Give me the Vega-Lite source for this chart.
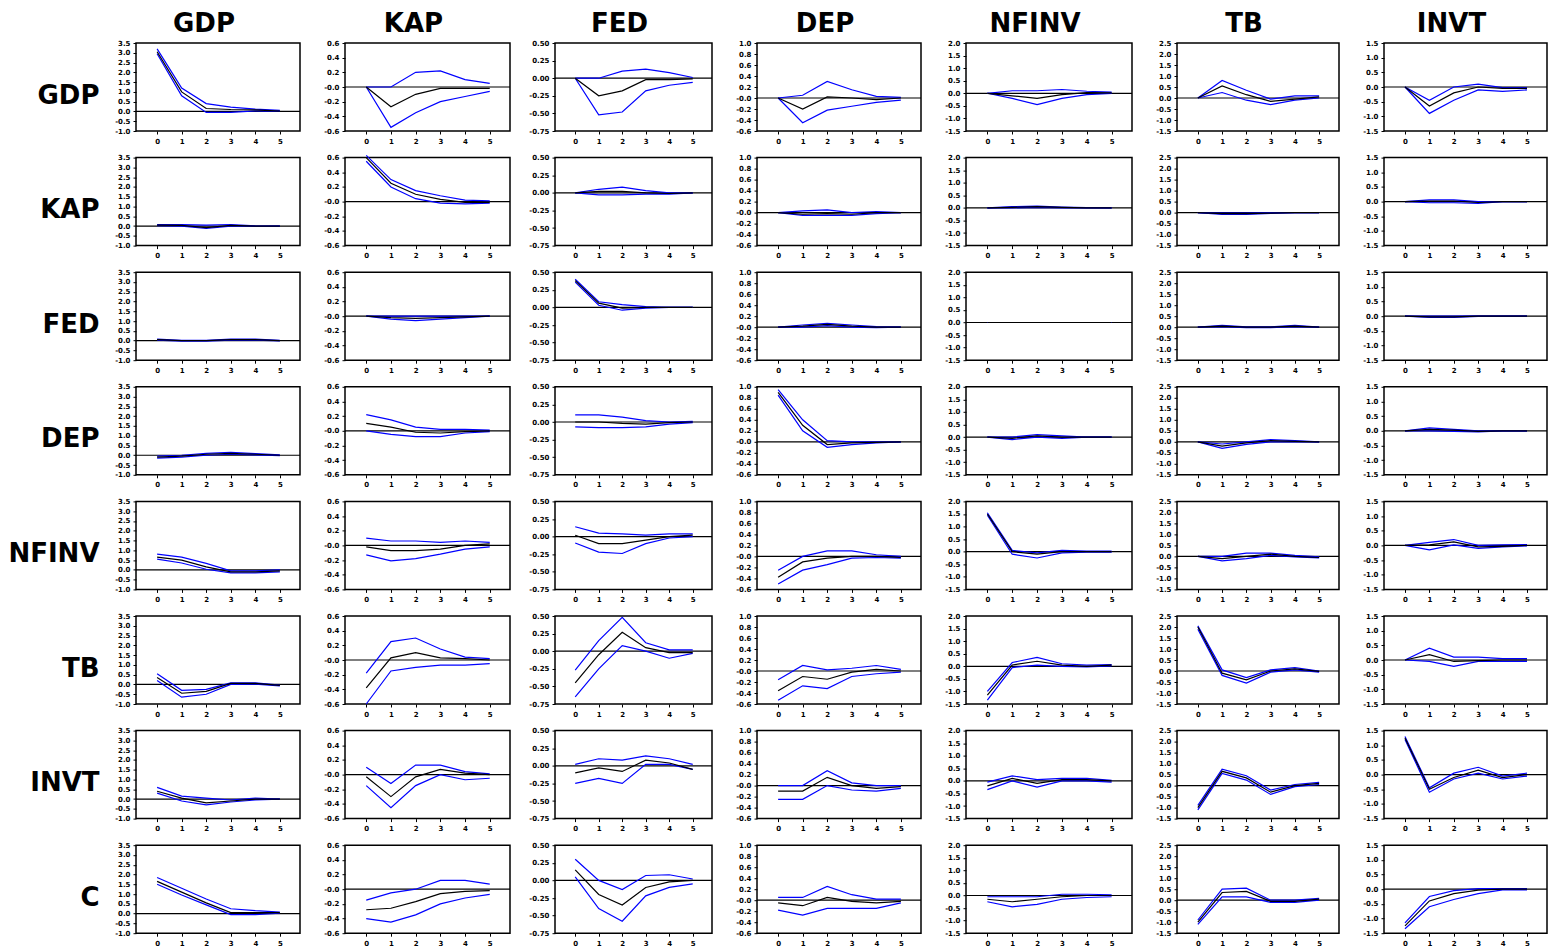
{
"$schema":"https://vega.github.io/schema/vega-lite/v6.json",
"padding":{"left":7,"top":10,"right":2,"bottom":2},
"background":"white",
"datasets":{"irf":[
{"r":"GDP","c":"GDP","h":0,"resp":3.05,"lo":2.95,"hi":3.2},{"r":"GDP","c":"GDP","h":1,"resp":1.0,"lo":0.8,"hi":1.2},{"r":"GDP","c":"GDP","h":2,"resp":0.15,"lo":-0.05,"hi":0.4},{"r":"GDP","c":"GDP","h":3,"resp":0.1,"lo":-0.05,"hi":0.22},{"r":"GDP","c":"GDP","h":4,"resp":0.08,"lo":0.03,"hi":0.12},{"r":"GDP","c":"GDP","h":5,"resp":0.02,"lo":0,"hi":0.05},
{"r":"GDP","c":"KAP","h":0,"resp":0,"lo":0,"hi":0},{"r":"GDP","c":"KAP","h":1,"resp":-0.27,"lo":-0.55,"hi":0},{"r":"GDP","c":"KAP","h":2,"resp":-0.1,"lo":-0.35,"hi":0.2},{"r":"GDP","c":"KAP","h":3,"resp":-0.02,"lo":-0.2,"hi":0.22},{"r":"GDP","c":"KAP","h":4,"resp":-0.02,"lo":-0.13,"hi":0.1},{"r":"GDP","c":"KAP","h":5,"resp":-0.02,"lo":-0.06,"hi":0.05},
{"r":"GDP","c":"FED","h":0,"resp":0,"lo":0,"hi":0},{"r":"GDP","c":"FED","h":1,"resp":-0.25,"lo":-0.52,"hi":0},{"r":"GDP","c":"FED","h":2,"resp":-0.18,"lo":-0.48,"hi":0.1},{"r":"GDP","c":"FED","h":3,"resp":-0.02,"lo":-0.18,"hi":0.13},{"r":"GDP","c":"FED","h":4,"resp":-0.02,"lo":-0.1,"hi":0.08},{"r":"GDP","c":"FED","h":5,"resp":-0.01,"lo":-0.06,"hi":0.01},
{"r":"GDP","c":"DEP","h":0,"resp":0,"lo":0,"hi":0},{"r":"GDP","c":"DEP","h":1,"resp":-0.2,"lo":-0.45,"hi":0.05},{"r":"GDP","c":"DEP","h":2,"resp":0.02,"lo":-0.22,"hi":0.3},{"r":"GDP","c":"DEP","h":3,"resp":0,"lo":-0.15,"hi":0.15},{"r":"GDP","c":"DEP","h":4,"resp":-0.03,"lo":-0.08,"hi":0.03},{"r":"GDP","c":"DEP","h":5,"resp":0,"lo":-0.04,"hi":0.01},
{"r":"GDP","c":"NFINV","h":0,"resp":0,"lo":0,"hi":0},{"r":"GDP","c":"NFINV","h":1,"resp":-0.1,"lo":-0.2,"hi":0.1},{"r":"GDP","c":"NFINV","h":2,"resp":-0.2,"lo":-0.45,"hi":0.1},{"r":"GDP","c":"NFINV","h":3,"resp":-0.05,"lo":-0.2,"hi":0.15},{"r":"GDP","c":"NFINV","h":4,"resp":0.03,"lo":-0.05,"hi":0.08},{"r":"GDP","c":"NFINV","h":5,"resp":0.02,"lo":0,"hi":0.05},
{"r":"GDP","c":"TB","h":0,"resp":0,"lo":0,"hi":0},{"r":"GDP","c":"TB","h":1,"resp":0.55,"lo":0.25,"hi":0.8},{"r":"GDP","c":"TB","h":2,"resp":0.15,"lo":-0.1,"hi":0.35},{"r":"GDP","c":"TB","h":3,"resp":-0.15,"lo":-0.3,"hi":-0.05},{"r":"GDP","c":"TB","h":4,"resp":-0.05,"lo":-0.1,"hi":0.1},{"r":"GDP","c":"TB","h":5,"resp":0.05,"lo":0,"hi":0.1},
{"r":"GDP","c":"INVT","h":0,"resp":0,"lo":0,"hi":0},{"r":"GDP","c":"INVT","h":1,"resp":-0.65,"lo":-0.9,"hi":-0.45},{"r":"GDP","c":"INVT","h":2,"resp":-0.2,"lo":-0.45,"hi":0},{"r":"GDP","c":"INVT","h":3,"resp":0,"lo":-0.1,"hi":0.1},{"r":"GDP","c":"INVT","h":4,"resp":-0.05,"lo":-0.15,"hi":-0.02},{"r":"GDP","c":"INVT","h":5,"resp":-0.05,"lo":-0.1,"hi":-0.02},
{"r":"KAP","c":"GDP","h":0,"resp":0.05,"lo":0.02,"hi":0.08},{"r":"KAP","c":"GDP","h":1,"resp":0.03,"lo":0,"hi":0.07},{"r":"KAP","c":"GDP","h":2,"resp":-0.08,"lo":-0.12,"hi":0.05},{"r":"KAP","c":"GDP","h":3,"resp":0.03,"lo":0,"hi":0.08},{"r":"KAP","c":"GDP","h":4,"resp":0,"lo":-0.01,"hi":0.01},{"r":"KAP","c":"GDP","h":5,"resp":0,"lo":0,"hi":0},
{"r":"KAP","c":"KAP","h":0,"resp":0.6,"lo":0.55,"hi":0.63},{"r":"KAP","c":"KAP","h":1,"resp":0.25,"lo":0.2,"hi":0.3},{"r":"KAP","c":"KAP","h":2,"resp":0.1,"lo":0.04,"hi":0.15},{"r":"KAP","c":"KAP","h":3,"resp":0.03,"lo":-0.02,"hi":0.08},{"r":"KAP","c":"KAP","h":4,"resp":-0.01,"lo":-0.03,"hi":0.02},{"r":"KAP","c":"KAP","h":5,"resp":-0.01,"lo":-0.02,"hi":0.01},
{"r":"KAP","c":"FED","h":0,"resp":0,"lo":0,"hi":0},{"r":"KAP","c":"FED","h":1,"resp":0.02,"lo":-0.03,"hi":0.05},{"r":"KAP","c":"FED","h":2,"resp":0.02,"lo":-0.03,"hi":0.08},{"r":"KAP","c":"FED","h":3,"resp":0,"lo":-0.02,"hi":0.03},{"r":"KAP","c":"FED","h":4,"resp":-0.01,"lo":-0.02,"hi":0},{"r":"KAP","c":"FED","h":5,"resp":0,"lo":0,"hi":0},
{"r":"KAP","c":"DEP","h":0,"resp":0,"lo":0,"hi":0},{"r":"KAP","c":"DEP","h":1,"resp":-0.03,"lo":-0.05,"hi":0.03},{"r":"KAP","c":"DEP","h":2,"resp":-0.02,"lo":-0.05,"hi":0.05},{"r":"KAP","c":"DEP","h":3,"resp":-0.03,"lo":-0.05,"hi":0},{"r":"KAP","c":"DEP","h":4,"resp":0,"lo":-0.02,"hi":0.02},{"r":"KAP","c":"DEP","h":5,"resp":0,"lo":0,"hi":0},
{"r":"KAP","c":"NFINV","h":0,"resp":0,"lo":0,"hi":0},{"r":"KAP","c":"NFINV","h":1,"resp":0.02,"lo":0,"hi":0.05},{"r":"KAP","c":"NFINV","h":2,"resp":0.05,"lo":0.02,"hi":0.07},{"r":"KAP","c":"NFINV","h":3,"resp":0.02,"lo":0,"hi":0.03},{"r":"KAP","c":"NFINV","h":4,"resp":0,"lo":0,"hi":0.01},{"r":"KAP","c":"NFINV","h":5,"resp":0,"lo":0,"hi":0},
{"r":"KAP","c":"TB","h":0,"resp":0,"lo":0,"hi":0},{"r":"KAP","c":"TB","h":1,"resp":-0.05,"lo":-0.08,"hi":-0.02},{"r":"KAP","c":"TB","h":2,"resp":-0.05,"lo":-0.08,"hi":-0.02},{"r":"KAP","c":"TB","h":3,"resp":-0.02,"lo":-0.04,"hi":0},{"r":"KAP","c":"TB","h":4,"resp":0,"lo":0,"hi":0},{"r":"KAP","c":"TB","h":5,"resp":0,"lo":0,"hi":0},
{"r":"KAP","c":"INVT","h":0,"resp":0,"lo":0,"hi":0},{"r":"KAP","c":"INVT","h":1,"resp":0.02,"lo":-0.04,"hi":0.06},{"r":"KAP","c":"INVT","h":2,"resp":0.02,"lo":-0.04,"hi":0.06},{"r":"KAP","c":"INVT","h":3,"resp":-0.03,"lo":-0.06,"hi":0},{"r":"KAP","c":"INVT","h":4,"resp":0,"lo":0,"hi":0},{"r":"KAP","c":"INVT","h":5,"resp":0,"lo":0,"hi":0},
{"r":"FED","c":"GDP","h":0,"resp":0.05,"lo":0.02,"hi":0.08},{"r":"FED","c":"GDP","h":1,"resp":0,"lo":-0.02,"hi":0.02},{"r":"FED","c":"GDP","h":2,"resp":0,"lo":-0.02,"hi":0.02},{"r":"FED","c":"GDP","h":3,"resp":0.05,"lo":0.02,"hi":0.08},{"r":"FED","c":"GDP","h":4,"resp":0.05,"lo":0.02,"hi":0.08},{"r":"FED","c":"GDP","h":5,"resp":0,"lo":-0.01,"hi":0.01},
{"r":"FED","c":"KAP","h":0,"resp":0,"lo":0,"hi":0},{"r":"FED","c":"KAP","h":1,"resp":-0.02,"lo":-0.04,"hi":0},{"r":"FED","c":"KAP","h":2,"resp":-0.03,"lo":-0.06,"hi":0},{"r":"FED","c":"KAP","h":3,"resp":-0.02,"lo":-0.04,"hi":0},{"r":"FED","c":"KAP","h":4,"resp":-0.01,"lo":-0.02,"hi":0},{"r":"FED","c":"KAP","h":5,"resp":0,"lo":0,"hi":0},
{"r":"FED","c":"FED","h":0,"resp":0.38,"lo":0.36,"hi":0.4},{"r":"FED","c":"FED","h":1,"resp":0.06,"lo":0.03,"hi":0.08},{"r":"FED","c":"FED","h":2,"resp":-0.01,"lo":-0.04,"hi":0.04},{"r":"FED","c":"FED","h":3,"resp":0,"lo":-0.01,"hi":0.01},{"r":"FED","c":"FED","h":4,"resp":0,"lo":0,"hi":0},{"r":"FED","c":"FED","h":5,"resp":0,"lo":0,"hi":0},
{"r":"FED","c":"DEP","h":0,"resp":0,"lo":0,"hi":0},{"r":"FED","c":"DEP","h":1,"resp":0.02,"lo":0,"hi":0.04},{"r":"FED","c":"DEP","h":2,"resp":0.05,"lo":0.03,"hi":0.07},{"r":"FED","c":"DEP","h":3,"resp":0.02,"lo":0,"hi":0.04},{"r":"FED","c":"DEP","h":4,"resp":0,"lo":-0.01,"hi":0.01},{"r":"FED","c":"DEP","h":5,"resp":0,"lo":0,"hi":0},
{"r":"FED","c":"NFINV","h":0,"resp":0,"lo":0,"hi":0},{"r":"FED","c":"NFINV","h":1,"resp":0,"lo":0,"hi":0},{"r":"FED","c":"NFINV","h":2,"resp":0,"lo":0,"hi":0},{"r":"FED","c":"NFINV","h":3,"resp":0,"lo":0,"hi":0},{"r":"FED","c":"NFINV","h":4,"resp":0,"lo":0,"hi":0},{"r":"FED","c":"NFINV","h":5,"resp":0,"lo":0,"hi":0},
{"r":"FED","c":"TB","h":0,"resp":0,"lo":0,"hi":0},{"r":"FED","c":"TB","h":1,"resp":0.05,"lo":0.02,"hi":0.08},{"r":"FED","c":"TB","h":2,"resp":0,"lo":-0.02,"hi":0.02},{"r":"FED","c":"TB","h":3,"resp":0,"lo":-0.02,"hi":0.02},{"r":"FED","c":"TB","h":4,"resp":0.05,"lo":0.02,"hi":0.08},{"r":"FED","c":"TB","h":5,"resp":0,"lo":0,"hi":0},
{"r":"FED","c":"INVT","h":0,"resp":0,"lo":0,"hi":0},{"r":"FED","c":"INVT","h":1,"resp":-0.02,"lo":-0.04,"hi":0},{"r":"FED","c":"INVT","h":2,"resp":-0.02,"lo":-0.04,"hi":0},{"r":"FED","c":"INVT","h":3,"resp":0,"lo":-0.01,"hi":0.01},{"r":"FED","c":"INVT","h":4,"resp":0,"lo":0,"hi":0},{"r":"FED","c":"INVT","h":5,"resp":0,"lo":0,"hi":0},
{"r":"DEP","c":"GDP","h":0,"resp":-0.1,"lo":-0.15,"hi":-0.05},{"r":"DEP","c":"GDP","h":1,"resp":-0.05,"lo":-0.1,"hi":0},{"r":"DEP","c":"GDP","h":2,"resp":0.05,"lo":0,"hi":0.1},{"r":"DEP","c":"GDP","h":3,"resp":0.1,"lo":0.05,"hi":0.15},{"r":"DEP","c":"GDP","h":4,"resp":0.05,"lo":0.02,"hi":0.08},{"r":"DEP","c":"GDP","h":5,"resp":0,"lo":-0.02,"hi":0.02},
{"r":"DEP","c":"KAP","h":0,"resp":0.1,"lo":0,"hi":0.22},{"r":"DEP","c":"KAP","h":1,"resp":0.05,"lo":-0.05,"hi":0.15},{"r":"DEP","c":"KAP","h":2,"resp":-0.02,"lo":-0.08,"hi":0.05},{"r":"DEP","c":"KAP","h":3,"resp":-0.03,"lo":-0.08,"hi":0.02},{"r":"DEP","c":"KAP","h":4,"resp":-0.01,"lo":-0.03,"hi":0.02},{"r":"DEP","c":"KAP","h":5,"resp":0,"lo":-0.01,"hi":0.01},
{"r":"DEP","c":"FED","h":0,"resp":0,"lo":-0.07,"hi":0.1},{"r":"DEP","c":"FED","h":1,"resp":0,"lo":-0.08,"hi":0.1},{"r":"DEP","c":"FED","h":2,"resp":-0.02,"lo":-0.08,"hi":0.07},{"r":"DEP","c":"FED","h":3,"resp":-0.03,"lo":-0.07,"hi":0.02},{"r":"DEP","c":"FED","h":4,"resp":-0.01,"lo":-0.03,"hi":0},{"r":"DEP","c":"FED","h":5,"resp":0,"lo":-0.01,"hi":0.01},
{"r":"DEP","c":"DEP","h":0,"resp":0.9,"lo":0.85,"hi":0.95},{"r":"DEP","c":"DEP","h":1,"resp":0.3,"lo":0.2,"hi":0.4},{"r":"DEP","c":"DEP","h":2,"resp":-0.05,"lo":-0.1,"hi":0.02},{"r":"DEP","c":"DEP","h":3,"resp":-0.02,"lo":-0.05,"hi":0},{"r":"DEP","c":"DEP","h":4,"resp":-0.01,"lo":-0.02,"hi":0},{"r":"DEP","c":"DEP","h":5,"resp":0,"lo":0,"hi":0},
{"r":"DEP","c":"NFINV","h":0,"resp":0,"lo":0,"hi":0},{"r":"DEP","c":"NFINV","h":1,"resp":-0.05,"lo":-0.1,"hi":0},{"r":"DEP","c":"NFINV","h":2,"resp":0.05,"lo":0,"hi":0.1},{"r":"DEP","c":"NFINV","h":3,"resp":0,"lo":-0.05,"hi":0.05},{"r":"DEP","c":"NFINV","h":4,"resp":0,"lo":0,"hi":0},{"r":"DEP","c":"NFINV","h":5,"resp":0,"lo":0,"hi":0},
{"r":"DEP","c":"TB","h":0,"resp":0,"lo":0,"hi":0},{"r":"DEP","c":"TB","h":1,"resp":-0.2,"lo":-0.3,"hi":-0.1},{"r":"DEP","c":"TB","h":2,"resp":-0.05,"lo":-0.12,"hi":0},{"r":"DEP","c":"TB","h":3,"resp":0.05,"lo":0,"hi":0.1},{"r":"DEP","c":"TB","h":4,"resp":0.02,"lo":0,"hi":0.05},{"r":"DEP","c":"TB","h":5,"resp":0,"lo":0,"hi":0},
{"r":"DEP","c":"INVT","h":0,"resp":0,"lo":0,"hi":0},{"r":"DEP","c":"INVT","h":1,"resp":0.05,"lo":0,"hi":0.1},{"r":"DEP","c":"INVT","h":2,"resp":0.02,"lo":-0.02,"hi":0.05},{"r":"DEP","c":"INVT","h":3,"resp":-0.02,"lo":-0.04,"hi":0},{"r":"DEP","c":"INVT","h":4,"resp":0,"lo":0,"hi":0},{"r":"DEP","c":"INVT","h":5,"resp":0,"lo":0,"hi":0},
{"r":"NFINV","c":"GDP","h":0,"resp":0.65,"lo":0.55,"hi":0.8},{"r":"NFINV","c":"GDP","h":1,"resp":0.5,"lo":0.35,"hi":0.65},{"r":"NFINV","c":"GDP","h":2,"resp":0.15,"lo":0.03,"hi":0.33},{"r":"NFINV","c":"GDP","h":3,"resp":-0.1,"lo":-0.15,"hi":-0.05},{"r":"NFINV","c":"GDP","h":4,"resp":-0.1,"lo":-0.15,"hi":-0.05},{"r":"NFINV","c":"GDP","h":5,"resp":-0.05,"lo":-0.1,"hi":0},
{"r":"NFINV","c":"KAP","h":0,"resp":-0.02,"lo":-0.13,"hi":0.1},{"r":"NFINV","c":"KAP","h":1,"resp":-0.07,"lo":-0.21,"hi":0.06},{"r":"NFINV","c":"KAP","h":2,"resp":-0.07,"lo":-0.18,"hi":0.06},{"r":"NFINV","c":"KAP","h":3,"resp":-0.05,"lo":-0.12,"hi":0.04},{"r":"NFINV","c":"KAP","h":4,"resp":0,"lo":-0.05,"hi":0.06},{"r":"NFINV","c":"KAP","h":5,"resp":0.02,"lo":-0.02,"hi":0.04},
{"r":"NFINV","c":"FED","h":0,"resp":0.02,"lo":-0.09,"hi":0.14},{"r":"NFINV","c":"FED","h":1,"resp":-0.1,"lo":-0.22,"hi":0.05},{"r":"NFINV","c":"FED","h":2,"resp":-0.1,"lo":-0.24,"hi":0.04},{"r":"NFINV","c":"FED","h":3,"resp":-0.05,"lo":-0.1,"hi":0.02},{"r":"NFINV","c":"FED","h":4,"resp":0,"lo":-0.02,"hi":0.04},{"r":"NFINV","c":"FED","h":5,"resp":0.02,"lo":0,"hi":0.04},
{"r":"NFINV","c":"DEP","h":0,"resp":-0.38,"lo":-0.5,"hi":-0.25},{"r":"NFINV","c":"DEP","h":1,"resp":-0.1,"lo":-0.25,"hi":0},{"r":"NFINV","c":"DEP","h":2,"resp":-0.03,"lo":-0.15,"hi":0.1},{"r":"NFINV","c":"DEP","h":3,"resp":0,"lo":-0.03,"hi":0.1},{"r":"NFINV","c":"DEP","h":4,"resp":0,"lo":-0.02,"hi":0.03},{"r":"NFINV","c":"DEP","h":5,"resp":-0.02,"lo":-0.03,"hi":0},
{"r":"NFINV","c":"NFINV","h":0,"resp":1.5,"lo":1.45,"hi":1.55},{"r":"NFINV","c":"NFINV","h":1,"resp":0,"lo":-0.1,"hi":0.05},{"r":"NFINV","c":"NFINV","h":2,"resp":-0.1,"lo":-0.25,"hi":-0.05},{"r":"NFINV","c":"NFINV","h":3,"resp":0,"lo":-0.05,"hi":0.05},{"r":"NFINV","c":"NFINV","h":4,"resp":0,"lo":-0.02,"hi":0.02},{"r":"NFINV","c":"NFINV","h":5,"resp":0,"lo":-0.02,"hi":0.02},
{"r":"NFINV","c":"TB","h":0,"resp":0,"lo":0,"hi":0},{"r":"NFINV","c":"TB","h":1,"resp":-0.1,"lo":-0.2,"hi":0},{"r":"NFINV","c":"TB","h":2,"resp":0,"lo":-0.1,"hi":0.15},{"r":"NFINV","c":"TB","h":3,"resp":0.1,"lo":0.05,"hi":0.15},{"r":"NFINV","c":"TB","h":4,"resp":0,"lo":-0.02,"hi":0.05},{"r":"NFINV","c":"TB","h":5,"resp":-0.05,"lo":-0.07,"hi":-0.02},
{"r":"NFINV","c":"INVT","h":0,"resp":0,"lo":0,"hi":0},{"r":"NFINV","c":"INVT","h":1,"resp":0.02,"lo":-0.15,"hi":0.1},{"r":"NFINV","c":"INVT","h":2,"resp":0.12,"lo":0.02,"hi":0.2},{"r":"NFINV","c":"INVT","h":3,"resp":-0.05,"lo":-0.1,"hi":0},{"r":"NFINV","c":"INVT","h":4,"resp":-0.03,"lo":-0.05,"hi":0.02},{"r":"NFINV","c":"INVT","h":5,"resp":0,"lo":-0.02,"hi":0.03},
{"r":"TB","c":"GDP","h":0,"resp":0.35,"lo":0.2,"hi":0.55},{"r":"TB","c":"GDP","h":1,"resp":-0.45,"lo":-0.65,"hi":-0.3},{"r":"TB","c":"GDP","h":2,"resp":-0.35,"lo":-0.5,"hi":-0.25},{"r":"TB","c":"GDP","h":3,"resp":0.05,"lo":0,"hi":0.08},{"r":"TB","c":"GDP","h":4,"resp":0.05,"lo":0.02,"hi":0.08},{"r":"TB","c":"GDP","h":5,"resp":-0.05,"lo":-0.08,"hi":-0.03},
{"r":"TB","c":"KAP","h":0,"resp":-0.38,"lo":-0.6,"hi":-0.18},{"r":"TB","c":"KAP","h":1,"resp":0.03,"lo":-0.15,"hi":0.25},{"r":"TB","c":"KAP","h":2,"resp":0.1,"lo":-0.1,"hi":0.3},{"r":"TB","c":"KAP","h":3,"resp":0.03,"lo":-0.07,"hi":0.15},{"r":"TB","c":"KAP","h":4,"resp":0.02,"lo":-0.07,"hi":0.04},{"r":"TB","c":"KAP","h":5,"resp":0,"lo":-0.05,"hi":0.02},
{"r":"TB","c":"FED","h":0,"resp":-0.45,"lo":-0.65,"hi":-0.27},{"r":"TB","c":"FED","h":1,"resp":-0.05,"lo":-0.25,"hi":0.15},{"r":"TB","c":"FED","h":2,"resp":0.27,"lo":0.08,"hi":0.48},{"r":"TB","c":"FED","h":3,"resp":0.05,"lo":0,"hi":0.12},{"r":"TB","c":"FED","h":4,"resp":-0.02,"lo":-0.1,"hi":0.02},{"r":"TB","c":"FED","h":5,"resp":-0.02,"lo":-0.03,"hi":0.02},
{"r":"TB","c":"DEP","h":0,"resp":-0.36,"lo":-0.53,"hi":-0.16},{"r":"TB","c":"DEP","h":1,"resp":-0.1,"lo":-0.27,"hi":0.1},{"r":"TB","c":"DEP","h":2,"resp":-0.15,"lo":-0.32,"hi":0.02},{"r":"TB","c":"DEP","h":3,"resp":-0.02,"lo":-0.1,"hi":0.05},{"r":"TB","c":"DEP","h":4,"resp":0.03,"lo":-0.05,"hi":0.1},{"r":"TB","c":"DEP","h":5,"resp":0,"lo":-0.02,"hi":0.03},
{"r":"TB","c":"NFINV","h":0,"resp":-1.15,"lo":-1.35,"hi":-1.0},{"r":"TB","c":"NFINV","h":1,"resp":0.05,"lo":-0.05,"hi":0.15},{"r":"TB","c":"NFINV","h":2,"resp":0.2,"lo":0.05,"hi":0.35},{"r":"TB","c":"NFINV","h":3,"resp":0.05,"lo":0,"hi":0.1},{"r":"TB","c":"NFINV","h":4,"resp":0,"lo":-0.02,"hi":0.05},{"r":"TB","c":"NFINV","h":5,"resp":0.05,"lo":0.02,"hi":0.07},
{"r":"TB","c":"TB","h":0,"resp":2.0,"lo":1.9,"hi":2.05},{"r":"TB","c":"TB","h":1,"resp":-0.1,"lo":-0.2,"hi":0.05},{"r":"TB","c":"TB","h":2,"resp":-0.4,"lo":-0.55,"hi":-0.3},{"r":"TB","c":"TB","h":3,"resp":0,"lo":-0.05,"hi":0.05},{"r":"TB","c":"TB","h":4,"resp":0.1,"lo":0.05,"hi":0.15},{"r":"TB","c":"TB","h":5,"resp":-0.02,"lo":-0.05,"hi":0},
{"r":"TB","c":"INVT","h":0,"resp":0,"lo":0,"hi":0},{"r":"TB","c":"INVT","h":1,"resp":0.18,"lo":-0.05,"hi":0.4},{"r":"TB","c":"INVT","h":2,"resp":-0.05,"lo":-0.22,"hi":0.1},{"r":"TB","c":"INVT","h":3,"resp":-0.02,"lo":-0.05,"hi":0.1},{"r":"TB","c":"INVT","h":4,"resp":0,"lo":-0.05,"hi":0.05},{"r":"TB","c":"INVT","h":5,"resp":0,"lo":-0.05,"hi":0.05},
{"r":"INVT","c":"GDP","h":0,"resp":0.4,"lo":0.3,"hi":0.6},{"r":"INVT","c":"GDP","h":1,"resp":0.05,"lo":-0.1,"hi":0.15},{"r":"INVT","c":"GDP","h":2,"resp":-0.2,"lo":-0.3,"hi":0.05},{"r":"INVT","c":"GDP","h":3,"resp":-0.1,"lo":-0.15,"hi":-0.05},{"r":"INVT","c":"GDP","h":4,"resp":0,"lo":-0.05,"hi":0.05},{"r":"INVT","c":"GDP","h":5,"resp":0,"lo":0,"hi":0},
{"r":"INVT","c":"KAP","h":0,"resp":-0.03,"lo":-0.15,"hi":0.1},{"r":"INVT","c":"KAP","h":1,"resp":-0.3,"lo":-0.45,"hi":-0.12},{"r":"INVT","c":"KAP","h":2,"resp":-0.03,"lo":-0.15,"hi":0.13},{"r":"INVT","c":"KAP","h":3,"resp":0.07,"lo":0,"hi":0.13},{"r":"INVT","c":"KAP","h":4,"resp":0.02,"lo":-0.07,"hi":0.04},{"r":"INVT","c":"KAP","h":5,"resp":0,"lo":-0.05,"hi":0.01},
{"r":"INVT","c":"FED","h":0,"resp":-0.1,"lo":-0.25,"hi":0.02},{"r":"INVT","c":"FED","h":1,"resp":-0.03,"lo":-0.18,"hi":0.1},{"r":"INVT","c":"FED","h":2,"resp":-0.08,"lo":-0.25,"hi":0.08},{"r":"INVT","c":"FED","h":3,"resp":0.08,"lo":0.02,"hi":0.14},{"r":"INVT","c":"FED","h":4,"resp":0.04,"lo":0.02,"hi":0.1},{"r":"INVT","c":"FED","h":5,"resp":-0.05,"lo":-0.05,"hi":0.02},
{"r":"INVT","c":"DEP","h":0,"resp":-0.1,"lo":-0.25,"hi":0},{"r":"INVT","c":"DEP","h":1,"resp":-0.1,"lo":-0.25,"hi":0},{"r":"INVT","c":"DEP","h":2,"resp":0.15,"lo":0,"hi":0.27},{"r":"INVT","c":"DEP","h":3,"resp":0,"lo":-0.08,"hi":0.05},{"r":"INVT","c":"DEP","h":4,"resp":-0.05,"lo":-0.1,"hi":0},{"r":"INVT","c":"DEP","h":5,"resp":-0.02,"lo":-0.05,"hi":0},
{"r":"INVT","c":"NFINV","h":0,"resp":-0.2,"lo":-0.35,"hi":-0.05},{"r":"INVT","c":"NFINV","h":1,"resp":0.1,"lo":0,"hi":0.2},{"r":"INVT","c":"NFINV","h":2,"resp":-0.1,"lo":-0.25,"hi":0.05},{"r":"INVT","c":"NFINV","h":3,"resp":0.05,"lo":0,"hi":0.1},{"r":"INVT","c":"NFINV","h":4,"resp":0.05,"lo":0,"hi":0.1},{"r":"INVT","c":"NFINV","h":5,"resp":0,"lo":-0.05,"hi":0.02},
{"r":"INVT","c":"TB","h":0,"resp":-1.0,"lo":-1.1,"hi":-0.9},{"r":"INVT","c":"TB","h":1,"resp":0.65,"lo":0.55,"hi":0.75},{"r":"INVT","c":"TB","h":2,"resp":0.35,"lo":0.25,"hi":0.45},{"r":"INVT","c":"TB","h":3,"resp":-0.3,"lo":-0.4,"hi":-0.2},{"r":"INVT","c":"TB","h":4,"resp":0,"lo":-0.05,"hi":0.05},{"r":"INVT","c":"TB","h":5,"resp":0.1,"lo":0.05,"hi":0.15},
{"r":"INVT","c":"INVT","h":0,"resp":1.25,"lo":1.2,"hi":1.3},{"r":"INVT","c":"INVT","h":1,"resp":-0.5,"lo":-0.6,"hi":-0.45},{"r":"INVT","c":"INVT","h":2,"resp":-0.1,"lo":-0.15,"hi":0.05},{"r":"INVT","c":"INVT","h":3,"resp":0.15,"lo":0.05,"hi":0.25},{"r":"INVT","c":"INVT","h":4,"resp":-0.1,"lo":-0.15,"hi":-0.05},{"r":"INVT","c":"INVT","h":5,"resp":0,"lo":-0.05,"hi":0.05},
{"r":"C","c":"GDP","h":0,"resp":1.65,"lo":1.5,"hi":1.85},{"r":"C","c":"GDP","h":1,"resp":1.1,"lo":0.95,"hi":1.3},{"r":"C","c":"GDP","h":2,"resp":0.55,"lo":0.45,"hi":0.75},{"r":"C","c":"GDP","h":3,"resp":0.05,"lo":-0.05,"hi":0.25},{"r":"C","c":"GDP","h":4,"resp":0.05,"lo":-0.05,"hi":0.15},{"r":"C","c":"GDP","h":5,"resp":0.05,"lo":0.02,"hi":0.08},
{"r":"C","c":"KAP","h":0,"resp":-0.28,"lo":-0.4,"hi":-0.15},{"r":"C","c":"KAP","h":1,"resp":-0.26,"lo":-0.45,"hi":-0.05},{"r":"C","c":"KAP","h":2,"resp":-0.17,"lo":-0.35,"hi":0},{"r":"C","c":"KAP","h":3,"resp":-0.06,"lo":-0.2,"hi":0.12},{"r":"C","c":"KAP","h":4,"resp":-0.03,"lo":-0.12,"hi":0.12},{"r":"C","c":"KAP","h":5,"resp":-0.02,"lo":-0.07,"hi":0.07},
{"r":"C","c":"FED","h":0,"resp":0.15,"lo":0.05,"hi":0.3},{"r":"C","c":"FED","h":1,"resp":-0.2,"lo":-0.4,"hi":0},{"r":"C","c":"FED","h":2,"resp":-0.35,"lo":-0.58,"hi":-0.13},{"r":"C","c":"FED","h":3,"resp":-0.1,"lo":-0.22,"hi":0.07},{"r":"C","c":"FED","h":4,"resp":-0.02,"lo":-0.1,"hi":0.08},{"r":"C","c":"FED","h":5,"resp":0,"lo":-0.05,"hi":0.02},
{"r":"C","c":"DEP","h":0,"resp":-0.05,"lo":-0.18,"hi":0.05},{"r":"C","c":"DEP","h":1,"resp":-0.1,"lo":-0.27,"hi":0.05},{"r":"C","c":"DEP","h":2,"resp":0.05,"lo":-0.15,"hi":0.25},{"r":"C","c":"DEP","h":3,"resp":-0.02,"lo":-0.15,"hi":0.1},{"r":"C","c":"DEP","h":4,"resp":-0.05,"lo":-0.15,"hi":0.02},{"r":"C","c":"DEP","h":5,"resp":-0.02,"lo":-0.05,"hi":0.02},
{"r":"C","c":"NFINV","h":0,"resp":-0.15,"lo":-0.25,"hi":-0.05},{"r":"C","c":"NFINV","h":1,"resp":-0.25,"lo":-0.45,"hi":-0.05},{"r":"C","c":"NFINV","h":2,"resp":-0.15,"lo":-0.35,"hi":-0.05},{"r":"C","c":"NFINV","h":3,"resp":-0.05,"lo":-0.15,"hi":0.05},{"r":"C","c":"NFINV","h":4,"resp":0,"lo":-0.08,"hi":0.05},{"r":"C","c":"NFINV","h":5,"resp":0,"lo":-0.05,"hi":0.03},
{"r":"C","c":"TB","h":0,"resp":-1.0,"lo":-1.1,"hi":-0.9},{"r":"C","c":"TB","h":1,"resp":0.35,"lo":0.15,"hi":0.5},{"r":"C","c":"TB","h":2,"resp":0.4,"lo":0.15,"hi":0.55},{"r":"C","c":"TB","h":3,"resp":-0.05,"lo":-0.1,"hi":0},{"r":"C","c":"TB","h":4,"resp":-0.05,"lo":-0.1,"hi":0},{"r":"C","c":"TB","h":5,"resp":0.05,"lo":0,"hi":0.08},
{"r":"C","c":"INVT","h":0,"resp":-1.25,"lo":-1.35,"hi":-1.15},{"r":"C","c":"INVT","h":1,"resp":-0.4,"lo":-0.6,"hi":-0.25},{"r":"C","c":"INVT","h":2,"resp":-0.15,"lo":-0.35,"hi":-0.05},{"r":"C","c":"INVT","h":3,"resp":-0.03,"lo":-0.15,"hi":0.02},{"r":"C","c":"INVT","h":4,"resp":0,"lo":-0.02,"hi":0.02},{"r":"C","c":"INVT","h":5,"resp":0,"lo":-0.02,"hi":0.02}
]},
"data":{"name":"irf"},
"columns":7,
"bounds":"flush",
"align":"each",
"spacing":{"row":26.6,"column":45},
"concat":[
{"width":164,"height":88,"title":"GDP","transform":[{"filter":"datum.r=='GDP'&&datum.c=='GDP'"}],"layer":[{"transform":[{"filter":"datum.h==0"}],"mark":{"type":"rule","color":"black","strokeWidth":1.2},"encoding":{"y":{"datum":0,"type":"quantitative","scale":{"domain":[-1,3.5],"nice":false,"zero":false},"axis":{"values":[-1,-0.5,0,0.5,1,1.5,2,2.5,3,3.5],"tickCount":20,"format":".1f","title":"GDP"}}}},{"mark":{"type":"line","color":"#0000ff"},"encoding":{"x":{"field":"h","type":"quantitative","scale":{"domain":[-0.86,5.82],"nice":false,"zero":false},"axis":{"values":[0,1,2,3,4,5],"tickCount":20,"format":"d","title":null}},"y":{"field":"hi","type":"quantitative"}}},{"mark":{"type":"line","color":"#0000ff"},"encoding":{"x":{"field":"h","type":"quantitative"},"y":{"field":"lo","type":"quantitative"}}},{"mark":{"type":"line","color":"black"},"encoding":{"x":{"field":"h","type":"quantitative"},"y":{"field":"resp","type":"quantitative"}}}]},
{"width":165,"height":88,"title":"KAP","transform":[{"filter":"datum.r=='GDP'&&datum.c=='KAP'"}],"layer":[{"transform":[{"filter":"datum.h==0"}],"mark":{"type":"rule","color":"black","strokeWidth":1.2},"encoding":{"y":{"datum":0,"type":"quantitative","scale":{"domain":[-0.6,0.6],"nice":false,"zero":false},"axis":{"values":[-0.6,-0.4,-0.2,0,0.2,0.4,0.6],"tickCount":20,"labelExpr":"datum.value==0?'-0.0':format(datum.value,'.1f')","title":null}}}},{"mark":{"type":"line","color":"#0000ff"},"encoding":{"x":{"field":"h","type":"quantitative","scale":{"domain":[-0.86,5.82],"nice":false,"zero":false},"axis":{"values":[0,1,2,3,4,5],"tickCount":20,"format":"d","title":null}},"y":{"field":"hi","type":"quantitative"}}},{"mark":{"type":"line","color":"#0000ff"},"encoding":{"x":{"field":"h","type":"quantitative"},"y":{"field":"lo","type":"quantitative"}}},{"mark":{"type":"line","color":"black"},"encoding":{"x":{"field":"h","type":"quantitative"},"y":{"field":"resp","type":"quantitative"}}}]},
{"width":157,"height":88,"title":"FED","transform":[{"filter":"datum.r=='GDP'&&datum.c=='FED'"}],"layer":[{"transform":[{"filter":"datum.h==0"}],"mark":{"type":"rule","color":"black","strokeWidth":1.2},"encoding":{"y":{"datum":0,"type":"quantitative","scale":{"domain":[-0.75,0.5],"nice":false,"zero":false},"axis":{"values":[-0.75,-0.5,-0.25,0,0.25,0.5],"tickCount":20,"format":".2f","title":null}}}},{"mark":{"type":"line","color":"#0000ff"},"encoding":{"x":{"field":"h","type":"quantitative","scale":{"domain":[-0.86,5.82],"nice":false,"zero":false},"axis":{"values":[0,1,2,3,4,5],"tickCount":20,"format":"d","title":null}},"y":{"field":"hi","type":"quantitative"}}},{"mark":{"type":"line","color":"#0000ff"},"encoding":{"x":{"field":"h","type":"quantitative"},"y":{"field":"lo","type":"quantitative"}}},{"mark":{"type":"line","color":"black"},"encoding":{"x":{"field":"h","type":"quantitative"},"y":{"field":"resp","type":"quantitative"}}}]},
{"width":164,"height":88,"title":"DEP","transform":[{"filter":"datum.r=='GDP'&&datum.c=='DEP'"}],"layer":[{"transform":[{"filter":"datum.h==0"}],"mark":{"type":"rule","color":"black","strokeWidth":1.2},"encoding":{"y":{"datum":0,"type":"quantitative","scale":{"domain":[-0.6,1],"nice":false,"zero":false},"axis":{"values":[-0.6,-0.4,-0.2,0,0.2,0.4,0.6,0.8,1],"tickCount":20,"labelExpr":"datum.value==0?'-0.0':format(datum.value,'.1f')","title":null}}}},{"mark":{"type":"line","color":"#0000ff"},"encoding":{"x":{"field":"h","type":"quantitative","scale":{"domain":[-0.86,5.82],"nice":false,"zero":false},"axis":{"values":[0,1,2,3,4,5],"tickCount":20,"format":"d","title":null}},"y":{"field":"hi","type":"quantitative"}}},{"mark":{"type":"line","color":"#0000ff"},"encoding":{"x":{"field":"h","type":"quantitative"},"y":{"field":"lo","type":"quantitative"}}},{"mark":{"type":"line","color":"black"},"encoding":{"x":{"field":"h","type":"quantitative"},"y":{"field":"resp","type":"quantitative"}}}]},
{"width":166,"height":88,"title":"NFINV","transform":[{"filter":"datum.r=='GDP'&&datum.c=='NFINV'"}],"layer":[{"transform":[{"filter":"datum.h==0"}],"mark":{"type":"rule","color":"black","strokeWidth":1.2},"encoding":{"y":{"datum":0,"type":"quantitative","scale":{"domain":[-1.5,2],"nice":false,"zero":false},"axis":{"values":[-1.5,-1,-0.5,0,0.5,1,1.5,2],"tickCount":20,"format":".1f","title":null}}}},{"mark":{"type":"line","color":"#0000ff"},"encoding":{"x":{"field":"h","type":"quantitative","scale":{"domain":[-0.86,5.82],"nice":false,"zero":false},"axis":{"values":[0,1,2,3,4,5],"tickCount":20,"format":"d","title":null}},"y":{"field":"hi","type":"quantitative"}}},{"mark":{"type":"line","color":"#0000ff"},"encoding":{"x":{"field":"h","type":"quantitative"},"y":{"field":"lo","type":"quantitative"}}},{"mark":{"type":"line","color":"black"},"encoding":{"x":{"field":"h","type":"quantitative"},"y":{"field":"resp","type":"quantitative"}}}]},
{"width":162,"height":88,"title":"TB","transform":[{"filter":"datum.r=='GDP'&&datum.c=='TB'"}],"layer":[{"transform":[{"filter":"datum.h==0"}],"mark":{"type":"rule","color":"black","strokeWidth":1.2},"encoding":{"y":{"datum":0,"type":"quantitative","scale":{"domain":[-1.5,2.5],"nice":false,"zero":false},"axis":{"values":[-1.5,-1,-0.5,0,0.5,1,1.5,2,2.5],"tickCount":20,"format":".1f","title":null}}}},{"mark":{"type":"line","color":"#0000ff"},"encoding":{"x":{"field":"h","type":"quantitative","scale":{"domain":[-0.86,5.82],"nice":false,"zero":false},"axis":{"values":[0,1,2,3,4,5],"tickCount":20,"format":"d","title":null}},"y":{"field":"hi","type":"quantitative"}}},{"mark":{"type":"line","color":"#0000ff"},"encoding":{"x":{"field":"h","type":"quantitative"},"y":{"field":"lo","type":"quantitative"}}},{"mark":{"type":"line","color":"black"},"encoding":{"x":{"field":"h","type":"quantitative"},"y":{"field":"resp","type":"quantitative"}}}]},
{"width":163,"height":88,"title":"INVT","transform":[{"filter":"datum.r=='GDP'&&datum.c=='INVT'"}],"layer":[{"transform":[{"filter":"datum.h==0"}],"mark":{"type":"rule","color":"black","strokeWidth":1.2},"encoding":{"y":{"datum":0,"type":"quantitative","scale":{"domain":[-1.5,1.5],"nice":false,"zero":false},"axis":{"values":[-1.5,-1,-0.5,0,0.5,1,1.5],"tickCount":20,"format":".1f","title":null}}}},{"mark":{"type":"line","color":"#0000ff"},"encoding":{"x":{"field":"h","type":"quantitative","scale":{"domain":[-0.86,5.82],"nice":false,"zero":false},"axis":{"values":[0,1,2,3,4,5],"tickCount":20,"format":"d","title":null}},"y":{"field":"hi","type":"quantitative"}}},{"mark":{"type":"line","color":"#0000ff"},"encoding":{"x":{"field":"h","type":"quantitative"},"y":{"field":"lo","type":"quantitative"}}},{"mark":{"type":"line","color":"black"},"encoding":{"x":{"field":"h","type":"quantitative"},"y":{"field":"resp","type":"quantitative"}}}]},

{"width":164,"height":88,"transform":[{"filter":"datum.r=='KAP'&&datum.c=='GDP'"}],"layer":[{"transform":[{"filter":"datum.h==0"}],"mark":{"type":"rule","color":"black","strokeWidth":1.2},"encoding":{"y":{"datum":0,"type":"quantitative","scale":{"domain":[-1,3.5],"nice":false,"zero":false},"axis":{"values":[-1,-0.5,0,0.5,1,1.5,2,2.5,3,3.5],"tickCount":20,"format":".1f","title":"KAP"}}}},{"mark":{"type":"line","color":"#0000ff"},"encoding":{"x":{"field":"h","type":"quantitative","scale":{"domain":[-0.86,5.82],"nice":false,"zero":false},"axis":{"values":[0,1,2,3,4,5],"tickCount":20,"format":"d","title":null}},"y":{"field":"hi","type":"quantitative"}}},{"mark":{"type":"line","color":"#0000ff"},"encoding":{"x":{"field":"h","type":"quantitative"},"y":{"field":"lo","type":"quantitative"}}},{"mark":{"type":"line","color":"black"},"encoding":{"x":{"field":"h","type":"quantitative"},"y":{"field":"resp","type":"quantitative"}}}]},
{"width":165,"height":88,"transform":[{"filter":"datum.r=='KAP'&&datum.c=='KAP'"}],"layer":[{"transform":[{"filter":"datum.h==0"}],"mark":{"type":"rule","color":"black","strokeWidth":1.2},"encoding":{"y":{"datum":0,"type":"quantitative","scale":{"domain":[-0.6,0.6],"nice":false,"zero":false},"axis":{"values":[-0.6,-0.4,-0.2,0,0.2,0.4,0.6],"tickCount":20,"labelExpr":"datum.value==0?'-0.0':format(datum.value,'.1f')","title":null}}}},{"mark":{"type":"line","color":"#0000ff"},"encoding":{"x":{"field":"h","type":"quantitative","scale":{"domain":[-0.86,5.82],"nice":false,"zero":false},"axis":{"values":[0,1,2,3,4,5],"tickCount":20,"format":"d","title":null}},"y":{"field":"hi","type":"quantitative"}}},{"mark":{"type":"line","color":"#0000ff"},"encoding":{"x":{"field":"h","type":"quantitative"},"y":{"field":"lo","type":"quantitative"}}},{"mark":{"type":"line","color":"black"},"encoding":{"x":{"field":"h","type":"quantitative"},"y":{"field":"resp","type":"quantitative"}}}]},
{"width":157,"height":88,"transform":[{"filter":"datum.r=='KAP'&&datum.c=='FED'"}],"layer":[{"transform":[{"filter":"datum.h==0"}],"mark":{"type":"rule","color":"black","strokeWidth":1.2},"encoding":{"y":{"datum":0,"type":"quantitative","scale":{"domain":[-0.75,0.5],"nice":false,"zero":false},"axis":{"values":[-0.75,-0.5,-0.25,0,0.25,0.5],"tickCount":20,"format":".2f","title":null}}}},{"mark":{"type":"line","color":"#0000ff"},"encoding":{"x":{"field":"h","type":"quantitative","scale":{"domain":[-0.86,5.82],"nice":false,"zero":false},"axis":{"values":[0,1,2,3,4,5],"tickCount":20,"format":"d","title":null}},"y":{"field":"hi","type":"quantitative"}}},{"mark":{"type":"line","color":"#0000ff"},"encoding":{"x":{"field":"h","type":"quantitative"},"y":{"field":"lo","type":"quantitative"}}},{"mark":{"type":"line","color":"black"},"encoding":{"x":{"field":"h","type":"quantitative"},"y":{"field":"resp","type":"quantitative"}}}]},
{"width":164,"height":88,"transform":[{"filter":"datum.r=='KAP'&&datum.c=='DEP'"}],"layer":[{"transform":[{"filter":"datum.h==0"}],"mark":{"type":"rule","color":"black","strokeWidth":1.2},"encoding":{"y":{"datum":0,"type":"quantitative","scale":{"domain":[-0.6,1],"nice":false,"zero":false},"axis":{"values":[-0.6,-0.4,-0.2,0,0.2,0.4,0.6,0.8,1],"tickCount":20,"labelExpr":"datum.value==0?'-0.0':format(datum.value,'.1f')","title":null}}}},{"mark":{"type":"line","color":"#0000ff"},"encoding":{"x":{"field":"h","type":"quantitative","scale":{"domain":[-0.86,5.82],"nice":false,"zero":false},"axis":{"values":[0,1,2,3,4,5],"tickCount":20,"format":"d","title":null}},"y":{"field":"hi","type":"quantitative"}}},{"mark":{"type":"line","color":"#0000ff"},"encoding":{"x":{"field":"h","type":"quantitative"},"y":{"field":"lo","type":"quantitative"}}},{"mark":{"type":"line","color":"black"},"encoding":{"x":{"field":"h","type":"quantitative"},"y":{"field":"resp","type":"quantitative"}}}]},
{"width":166,"height":88,"transform":[{"filter":"datum.r=='KAP'&&datum.c=='NFINV'"}],"layer":[{"transform":[{"filter":"datum.h==0"}],"mark":{"type":"rule","color":"black","strokeWidth":1.2},"encoding":{"y":{"datum":0,"type":"quantitative","scale":{"domain":[-1.5,2],"nice":false,"zero":false},"axis":{"values":[-1.5,-1,-0.5,0,0.5,1,1.5,2],"tickCount":20,"format":".1f","title":null}}}},{"mark":{"type":"line","color":"#0000ff"},"encoding":{"x":{"field":"h","type":"quantitative","scale":{"domain":[-0.86,5.82],"nice":false,"zero":false},"axis":{"values":[0,1,2,3,4,5],"tickCount":20,"format":"d","title":null}},"y":{"field":"hi","type":"quantitative"}}},{"mark":{"type":"line","color":"#0000ff"},"encoding":{"x":{"field":"h","type":"quantitative"},"y":{"field":"lo","type":"quantitative"}}},{"mark":{"type":"line","color":"black"},"encoding":{"x":{"field":"h","type":"quantitative"},"y":{"field":"resp","type":"quantitative"}}}]},
{"width":162,"height":88,"transform":[{"filter":"datum.r=='KAP'&&datum.c=='TB'"}],"layer":[{"transform":[{"filter":"datum.h==0"}],"mark":{"type":"rule","color":"black","strokeWidth":1.2},"encoding":{"y":{"datum":0,"type":"quantitative","scale":{"domain":[-1.5,2.5],"nice":false,"zero":false},"axis":{"values":[-1.5,-1,-0.5,0,0.5,1,1.5,2,2.5],"tickCount":20,"format":".1f","title":null}}}},{"mark":{"type":"line","color":"#0000ff"},"encoding":{"x":{"field":"h","type":"quantitative","scale":{"domain":[-0.86,5.82],"nice":false,"zero":false},"axis":{"values":[0,1,2,3,4,5],"tickCount":20,"format":"d","title":null}},"y":{"field":"hi","type":"quantitative"}}},{"mark":{"type":"line","color":"#0000ff"},"encoding":{"x":{"field":"h","type":"quantitative"},"y":{"field":"lo","type":"quantitative"}}},{"mark":{"type":"line","color":"black"},"encoding":{"x":{"field":"h","type":"quantitative"},"y":{"field":"resp","type":"quantitative"}}}]},
{"width":163,"height":88,"transform":[{"filter":"datum.r=='KAP'&&datum.c=='INVT'"}],"layer":[{"transform":[{"filter":"datum.h==0"}],"mark":{"type":"rule","color":"black","strokeWidth":1.2},"encoding":{"y":{"datum":0,"type":"quantitative","scale":{"domain":[-1.5,1.5],"nice":false,"zero":false},"axis":{"values":[-1.5,-1,-0.5,0,0.5,1,1.5],"tickCount":20,"format":".1f","title":null}}}},{"mark":{"type":"line","color":"#0000ff"},"encoding":{"x":{"field":"h","type":"quantitative","scale":{"domain":[-0.86,5.82],"nice":false,"zero":false},"axis":{"values":[0,1,2,3,4,5],"tickCount":20,"format":"d","title":null}},"y":{"field":"hi","type":"quantitative"}}},{"mark":{"type":"line","color":"#0000ff"},"encoding":{"x":{"field":"h","type":"quantitative"},"y":{"field":"lo","type":"quantitative"}}},{"mark":{"type":"line","color":"black"},"encoding":{"x":{"field":"h","type":"quantitative"},"y":{"field":"resp","type":"quantitative"}}}]},

{"width":164,"height":88,"transform":[{"filter":"datum.r=='FED'&&datum.c=='GDP'"}],"layer":[{"transform":[{"filter":"datum.h==0"}],"mark":{"type":"rule","color":"black","strokeWidth":1.2},"encoding":{"y":{"datum":0,"type":"quantitative","scale":{"domain":[-1,3.5],"nice":false,"zero":false},"axis":{"values":[-1,-0.5,0,0.5,1,1.5,2,2.5,3,3.5],"tickCount":20,"format":".1f","title":"FED"}}}},{"mark":{"type":"line","color":"#0000ff"},"encoding":{"x":{"field":"h","type":"quantitative","scale":{"domain":[-0.86,5.82],"nice":false,"zero":false},"axis":{"values":[0,1,2,3,4,5],"tickCount":20,"format":"d","title":null}},"y":{"field":"hi","type":"quantitative"}}},{"mark":{"type":"line","color":"#0000ff"},"encoding":{"x":{"field":"h","type":"quantitative"},"y":{"field":"lo","type":"quantitative"}}},{"mark":{"type":"line","color":"black"},"encoding":{"x":{"field":"h","type":"quantitative"},"y":{"field":"resp","type":"quantitative"}}}]},
{"width":165,"height":88,"transform":[{"filter":"datum.r=='FED'&&datum.c=='KAP'"}],"layer":[{"transform":[{"filter":"datum.h==0"}],"mark":{"type":"rule","color":"black","strokeWidth":1.2},"encoding":{"y":{"datum":0,"type":"quantitative","scale":{"domain":[-0.6,0.6],"nice":false,"zero":false},"axis":{"values":[-0.6,-0.4,-0.2,0,0.2,0.4,0.6],"tickCount":20,"labelExpr":"datum.value==0?'-0.0':format(datum.value,'.1f')","title":null}}}},{"mark":{"type":"line","color":"#0000ff"},"encoding":{"x":{"field":"h","type":"quantitative","scale":{"domain":[-0.86,5.82],"nice":false,"zero":false},"axis":{"values":[0,1,2,3,4,5],"tickCount":20,"format":"d","title":null}},"y":{"field":"hi","type":"quantitative"}}},{"mark":{"type":"line","color":"#0000ff"},"encoding":{"x":{"field":"h","type":"quantitative"},"y":{"field":"lo","type":"quantitative"}}},{"mark":{"type":"line","color":"black"},"encoding":{"x":{"field":"h","type":"quantitative"},"y":{"field":"resp","type":"quantitative"}}}]},
{"width":157,"height":88,"transform":[{"filter":"datum.r=='FED'&&datum.c=='FED'"}],"layer":[{"transform":[{"filter":"datum.h==0"}],"mark":{"type":"rule","color":"black","strokeWidth":1.2},"encoding":{"y":{"datum":0,"type":"quantitative","scale":{"domain":[-0.75,0.5],"nice":false,"zero":false},"axis":{"values":[-0.75,-0.5,-0.25,0,0.25,0.5],"tickCount":20,"format":".2f","title":null}}}},{"mark":{"type":"line","color":"#0000ff"},"encoding":{"x":{"field":"h","type":"quantitative","scale":{"domain":[-0.86,5.82],"nice":false,"zero":false},"axis":{"values":[0,1,2,3,4,5],"tickCount":20,"format":"d","title":null}},"y":{"field":"hi","type":"quantitative"}}},{"mark":{"type":"line","color":"#0000ff"},"encoding":{"x":{"field":"h","type":"quantitative"},"y":{"field":"lo","type":"quantitative"}}},{"mark":{"type":"line","color":"black"},"encoding":{"x":{"field":"h","type":"quantitative"},"y":{"field":"resp","type":"quantitative"}}}]},
{"width":164,"height":88,"transform":[{"filter":"datum.r=='FED'&&datum.c=='DEP'"}],"layer":[{"transform":[{"filter":"datum.h==0"}],"mark":{"type":"rule","color":"black","strokeWidth":1.2},"encoding":{"y":{"datum":0,"type":"quantitative","scale":{"domain":[-0.6,1],"nice":false,"zero":false},"axis":{"values":[-0.6,-0.4,-0.2,0,0.2,0.4,0.6,0.8,1],"tickCount":20,"labelExpr":"datum.value==0?'-0.0':format(datum.value,'.1f')","title":null}}}},{"mark":{"type":"line","color":"#0000ff"},"encoding":{"x":{"field":"h","type":"quantitative","scale":{"domain":[-0.86,5.82],"nice":false,"zero":false},"axis":{"values":[0,1,2,3,4,5],"tickCount":20,"format":"d","title":null}},"y":{"field":"hi","type":"quantitative"}}},{"mark":{"type":"line","color":"#0000ff"},"encoding":{"x":{"field":"h","type":"quantitative"},"y":{"field":"lo","type":"quantitative"}}},{"mark":{"type":"line","color":"black"},"encoding":{"x":{"field":"h","type":"quantitative"},"y":{"field":"resp","type":"quantitative"}}}]},
{"width":166,"height":88,"transform":[{"filter":"datum.r=='FED'&&datum.c=='NFINV'"}],"layer":[{"transform":[{"filter":"datum.h==0"}],"mark":{"type":"rule","color":"black","strokeWidth":1.2},"encoding":{"y":{"datum":0,"type":"quantitative","scale":{"domain":[-1.5,2],"nice":false,"zero":false},"axis":{"values":[-1.5,-1,-0.5,0,0.5,1,1.5,2],"tickCount":20,"format":".1f","title":null}}}},{"mark":{"type":"line","color":"#0000ff"},"encoding":{"x":{"field":"h","type":"quantitative","scale":{"domain":[-0.86,5.82],"nice":false,"zero":false},"axis":{"values":[0,1,2,3,4,5],"tickCount":20,"format":"d","title":null}},"y":{"field":"hi","type":"quantitative"}}},{"mark":{"type":"line","color":"#0000ff"},"encoding":{"x":{"field":"h","type":"quantitative"},"y":{"field":"lo","type":"quantitative"}}},{"mark":{"type":"line","color":"black"},"encoding":{"x":{"field":"h","type":"quantitative"},"y":{"field":"resp","type":"quantitative"}}}]},
{"width":162,"height":88,"transform":[{"filter":"datum.r=='FED'&&datum.c=='TB'"}],"layer":[{"transform":[{"filter":"datum.h==0"}],"mark":{"type":"rule","color":"black","strokeWidth":1.2},"encoding":{"y":{"datum":0,"type":"quantitative","scale":{"domain":[-1.5,2.5],"nice":false,"zero":false},"axis":{"values":[-1.5,-1,-0.5,0,0.5,1,1.5,2,2.5],"tickCount":20,"format":".1f","title":null}}}},{"mark":{"type":"line","color":"#0000ff"},"encoding":{"x":{"field":"h","type":"quantitative","scale":{"domain":[-0.86,5.82],"nice":false,"zero":false},"axis":{"values":[0,1,2,3,4,5],"tickCount":20,"format":"d","title":null}},"y":{"field":"hi","type":"quantitative"}}},{"mark":{"type":"line","color":"#0000ff"},"encoding":{"x":{"field":"h","type":"quantitative"},"y":{"field":"lo","type":"quantitative"}}},{"mark":{"type":"line","color":"black"},"encoding":{"x":{"field":"h","type":"quantitative"},"y":{"field":"resp","type":"quantitative"}}}]},
{"width":163,"height":88,"transform":[{"filter":"datum.r=='FED'&&datum.c=='INVT'"}],"layer":[{"transform":[{"filter":"datum.h==0"}],"mark":{"type":"rule","color":"black","strokeWidth":1.2},"encoding":{"y":{"datum":0,"type":"quantitative","scale":{"domain":[-1.5,1.5],"nice":false,"zero":false},"axis":{"values":[-1.5,-1,-0.5,0,0.5,1,1.5],"tickCount":20,"format":".1f","title":null}}}},{"mark":{"type":"line","color":"#0000ff"},"encoding":{"x":{"field":"h","type":"quantitative","scale":{"domain":[-0.86,5.82],"nice":false,"zero":false},"axis":{"values":[0,1,2,3,4,5],"tickCount":20,"format":"d","title":null}},"y":{"field":"hi","type":"quantitative"}}},{"mark":{"type":"line","color":"#0000ff"},"encoding":{"x":{"field":"h","type":"quantitative"},"y":{"field":"lo","type":"quantitative"}}},{"mark":{"type":"line","color":"black"},"encoding":{"x":{"field":"h","type":"quantitative"},"y":{"field":"resp","type":"quantitative"}}}]},

{"width":164,"height":88,"transform":[{"filter":"datum.r=='DEP'&&datum.c=='GDP'"}],"layer":[{"transform":[{"filter":"datum.h==0"}],"mark":{"type":"rule","color":"black","strokeWidth":1.2},"encoding":{"y":{"datum":0,"type":"quantitative","scale":{"domain":[-1,3.5],"nice":false,"zero":false},"axis":{"values":[-1,-0.5,0,0.5,1,1.5,2,2.5,3,3.5],"tickCount":20,"format":".1f","title":"DEP"}}}},{"mark":{"type":"line","color":"#0000ff"},"encoding":{"x":{"field":"h","type":"quantitative","scale":{"domain":[-0.86,5.82],"nice":false,"zero":false},"axis":{"values":[0,1,2,3,4,5],"tickCount":20,"format":"d","title":null}},"y":{"field":"hi","type":"quantitative"}}},{"mark":{"type":"line","color":"#0000ff"},"encoding":{"x":{"field":"h","type":"quantitative"},"y":{"field":"lo","type":"quantitative"}}},{"mark":{"type":"line","color":"black"},"encoding":{"x":{"field":"h","type":"quantitative"},"y":{"field":"resp","type":"quantitative"}}}]},
{"width":165,"height":88,"transform":[{"filter":"datum.r=='DEP'&&datum.c=='KAP'"}],"layer":[{"transform":[{"filter":"datum.h==0"}],"mark":{"type":"rule","color":"black","strokeWidth":1.2},"encoding":{"y":{"datum":0,"type":"quantitative","scale":{"domain":[-0.6,0.6],"nice":false,"zero":false},"axis":{"values":[-0.6,-0.4,-0.2,0,0.2,0.4,0.6],"tickCount":20,"labelExpr":"datum.value==0?'-0.0':format(datum.value,'.1f')","title":null}}}},{"mark":{"type":"line","color":"#0000ff"},"encoding":{"x":{"field":"h","type":"quantitative","scale":{"domain":[-0.86,5.82],"nice":false,"zero":false},"axis":{"values":[0,1,2,3,4,5],"tickCount":20,"format":"d","title":null}},"y":{"field":"hi","type":"quantitative"}}},{"mark":{"type":"line","color":"#0000ff"},"encoding":{"x":{"field":"h","type":"quantitative"},"y":{"field":"lo","type":"quantitative"}}},{"mark":{"type":"line","color":"black"},"encoding":{"x":{"field":"h","type":"quantitative"},"y":{"field":"resp","type":"quantitative"}}}]},
{"width":157,"height":88,"transform":[{"filter":"datum.r=='DEP'&&datum.c=='FED'"}],"layer":[{"transform":[{"filter":"datum.h==0"}],"mark":{"type":"rule","color":"black","strokeWidth":1.2},"encoding":{"y":{"datum":0,"type":"quantitative","scale":{"domain":[-0.75,0.5],"nice":false,"zero":false},"axis":{"values":[-0.75,-0.5,-0.25,0,0.25,0.5],"tickCount":20,"format":".2f","title":null}}}},{"mark":{"type":"line","color":"#0000ff"},"encoding":{"x":{"field":"h","type":"quantitative","scale":{"domain":[-0.86,5.82],"nice":false,"zero":false},"axis":{"values":[0,1,2,3,4,5],"tickCount":20,"format":"d","title":null}},"y":{"field":"hi","type":"quantitative"}}},{"mark":{"type":"line","color":"#0000ff"},"encoding":{"x":{"field":"h","type":"quantitative"},"y":{"field":"lo","type":"quantitative"}}},{"mark":{"type":"line","color":"black"},"encoding":{"x":{"field":"h","type":"quantitative"},"y":{"field":"resp","type":"quantitative"}}}]},
{"width":164,"height":88,"transform":[{"filter":"datum.r=='DEP'&&datum.c=='DEP'"}],"layer":[{"transform":[{"filter":"datum.h==0"}],"mark":{"type":"rule","color":"black","strokeWidth":1.2},"encoding":{"y":{"datum":0,"type":"quantitative","scale":{"domain":[-0.6,1],"nice":false,"zero":false},"axis":{"values":[-0.6,-0.4,-0.2,0,0.2,0.4,0.6,0.8,1],"tickCount":20,"labelExpr":"datum.value==0?'-0.0':format(datum.value,'.1f')","title":null}}}},{"mark":{"type":"line","color":"#0000ff"},"encoding":{"x":{"field":"h","type":"quantitative","scale":{"domain":[-0.86,5.82],"nice":false,"zero":false},"axis":{"values":[0,1,2,3,4,5],"tickCount":20,"format":"d","title":null}},"y":{"field":"hi","type":"quantitative"}}},{"mark":{"type":"line","color":"#0000ff"},"encoding":{"x":{"field":"h","type":"quantitative"},"y":{"field":"lo","type":"quantitative"}}},{"mark":{"type":"line","color":"black"},"encoding":{"x":{"field":"h","type":"quantitative"},"y":{"field":"resp","type":"quantitative"}}}]},
{"width":166,"height":88,"transform":[{"filter":"datum.r=='DEP'&&datum.c=='NFINV'"}],"layer":[{"transform":[{"filter":"datum.h==0"}],"mark":{"type":"rule","color":"black","strokeWidth":1.2},"encoding":{"y":{"datum":0,"type":"quantitative","scale":{"domain":[-1.5,2],"nice":false,"zero":false},"axis":{"values":[-1.5,-1,-0.5,0,0.5,1,1.5,2],"tickCount":20,"format":".1f","title":null}}}},{"mark":{"type":"line","color":"#0000ff"},"encoding":{"x":{"field":"h","type":"quantitative","scale":{"domain":[-0.86,5.82],"nice":false,"zero":false},"axis":{"values":[0,1,2,3,4,5],"tickCount":20,"format":"d","title":null}},"y":{"field":"hi","type":"quantitative"}}},{"mark":{"type":"line","color":"#0000ff"},"encoding":{"x":{"field":"h","type":"quantitative"},"y":{"field":"lo","type":"quantitative"}}},{"mark":{"type":"line","color":"black"},"encoding":{"x":{"field":"h","type":"quantitative"},"y":{"field":"resp","type":"quantitative"}}}]},
{"width":162,"height":88,"transform":[{"filter":"datum.r=='DEP'&&datum.c=='TB'"}],"layer":[{"transform":[{"filter":"datum.h==0"}],"mark":{"type":"rule","color":"black","strokeWidth":1.2},"encoding":{"y":{"datum":0,"type":"quantitative","scale":{"domain":[-1.5,2.5],"nice":false,"zero":false},"axis":{"values":[-1.5,-1,-0.5,0,0.5,1,1.5,2,2.5],"tickCount":20,"format":".1f","title":null}}}},{"mark":{"type":"line","color":"#0000ff"},"encoding":{"x":{"field":"h","type":"quantitative","scale":{"domain":[-0.86,5.82],"nice":false,"zero":false},"axis":{"values":[0,1,2,3,4,5],"tickCount":20,"format":"d","title":null}},"y":{"field":"hi","type":"quantitative"}}},{"mark":{"type":"line","color":"#0000ff"},"encoding":{"x":{"field":"h","type":"quantitative"},"y":{"field":"lo","type":"quantitative"}}},{"mark":{"type":"line","color":"black"},"encoding":{"x":{"field":"h","type":"quantitative"},"y":{"field":"resp","type":"quantitative"}}}]},
{"width":163,"height":88,"transform":[{"filter":"datum.r=='DEP'&&datum.c=='INVT'"}],"layer":[{"transform":[{"filter":"datum.h==0"}],"mark":{"type":"rule","color":"black","strokeWidth":1.2},"encoding":{"y":{"datum":0,"type":"quantitative","scale":{"domain":[-1.5,1.5],"nice":false,"zero":false},"axis":{"values":[-1.5,-1,-0.5,0,0.5,1,1.5],"tickCount":20,"format":".1f","title":null}}}},{"mark":{"type":"line","color":"#0000ff"},"encoding":{"x":{"field":"h","type":"quantitative","scale":{"domain":[-0.86,5.82],"nice":false,"zero":false},"axis":{"values":[0,1,2,3,4,5],"tickCount":20,"format":"d","title":null}},"y":{"field":"hi","type":"quantitative"}}},{"mark":{"type":"line","color":"#0000ff"},"encoding":{"x":{"field":"h","type":"quantitative"},"y":{"field":"lo","type":"quantitative"}}},{"mark":{"type":"line","color":"black"},"encoding":{"x":{"field":"h","type":"quantitative"},"y":{"field":"resp","type":"quantitative"}}}]},

{"width":164,"height":88,"transform":[{"filter":"datum.r=='NFINV'&&datum.c=='GDP'"}],"layer":[{"transform":[{"filter":"datum.h==0"}],"mark":{"type":"rule","color":"black","strokeWidth":1.2},"encoding":{"y":{"datum":0,"type":"quantitative","scale":{"domain":[-1,3.5],"nice":false,"zero":false},"axis":{"values":[-1,-0.5,0,0.5,1,1.5,2,2.5,3,3.5],"tickCount":20,"format":".1f","title":"NFINV"}}}},{"mark":{"type":"line","color":"#0000ff"},"encoding":{"x":{"field":"h","type":"quantitative","scale":{"domain":[-0.86,5.82],"nice":false,"zero":false},"axis":{"values":[0,1,2,3,4,5],"tickCount":20,"format":"d","title":null}},"y":{"field":"hi","type":"quantitative"}}},{"mark":{"type":"line","color":"#0000ff"},"encoding":{"x":{"field":"h","type":"quantitative"},"y":{"field":"lo","type":"quantitative"}}},{"mark":{"type":"line","color":"black"},"encoding":{"x":{"field":"h","type":"quantitative"},"y":{"field":"resp","type":"quantitative"}}}]},
{"width":165,"height":88,"transform":[{"filter":"datum.r=='NFINV'&&datum.c=='KAP'"}],"layer":[{"transform":[{"filter":"datum.h==0"}],"mark":{"type":"rule","color":"black","strokeWidth":1.2},"encoding":{"y":{"datum":0,"type":"quantitative","scale":{"domain":[-0.6,0.6],"nice":false,"zero":false},"axis":{"values":[-0.6,-0.4,-0.2,0,0.2,0.4,0.6],"tickCount":20,"labelExpr":"datum.value==0?'-0.0':format(datum.value,'.1f')","title":null}}}},{"mark":{"type":"line","color":"#0000ff"},"encoding":{"x":{"field":"h","type":"quantitative","scale":{"domain":[-0.86,5.82],"nice":false,"zero":false},"axis":{"values":[0,1,2,3,4,5],"tickCount":20,"format":"d","title":null}},"y":{"field":"hi","type":"quantitative"}}},{"mark":{"type":"line","color":"#0000ff"},"encoding":{"x":{"field":"h","type":"quantitative"},"y":{"field":"lo","type":"quantitative"}}},{"mark":{"type":"line","color":"black"},"encoding":{"x":{"field":"h","type":"quantitative"},"y":{"field":"resp","type":"quantitative"}}}]},
{"width":157,"height":88,"transform":[{"filter":"datum.r=='NFINV'&&datum.c=='FED'"}],"layer":[{"transform":[{"filter":"datum.h==0"}],"mark":{"type":"rule","color":"black","strokeWidth":1.2},"encoding":{"y":{"datum":0,"type":"quantitative","scale":{"domain":[-0.75,0.5],"nice":false,"zero":false},"axis":{"values":[-0.75,-0.5,-0.25,0,0.25,0.5],"tickCount":20,"format":".2f","title":null}}}},{"mark":{"type":"line","color":"#0000ff"},"encoding":{"x":{"field":"h","type":"quantitative","scale":{"domain":[-0.86,5.82],"nice":false,"zero":false},"axis":{"values":[0,1,2,3,4,5],"tickCount":20,"format":"d","title":null}},"y":{"field":"hi","type":"quantitative"}}},{"mark":{"type":"line","color":"#0000ff"},"encoding":{"x":{"field":"h","type":"quantitative"},"y":{"field":"lo","type":"quantitative"}}},{"mark":{"type":"line","color":"black"},"encoding":{"x":{"field":"h","type":"quantitative"},"y":{"field":"resp","type":"quantitative"}}}]},
{"width":164,"height":88,"transform":[{"filter":"datum.r=='NFINV'&&datum.c=='DEP'"}],"layer":[{"transform":[{"filter":"datum.h==0"}],"mark":{"type":"rule","color":"black","strokeWidth":1.2},"encoding":{"y":{"datum":0,"type":"quantitative","scale":{"domain":[-0.6,1],"nice":false,"zero":false},"axis":{"values":[-0.6,-0.4,-0.2,0,0.2,0.4,0.6,0.8,1],"tickCount":20,"labelExpr":"datum.value==0?'-0.0':format(datum.value,'.1f')","title":null}}}},{"mark":{"type":"line","color":"#0000ff"},"encoding":{"x":{"field":"h","type":"quantitative","scale":{"domain":[-0.86,5.82],"nice":false,"zero":false},"axis":{"values":[0,1,2,3,4,5],"tickCount":20,"format":"d","title":null}},"y":{"field":"hi","type":"quantitative"}}},{"mark":{"type":"line","color":"#0000ff"},"encoding":{"x":{"field":"h","type":"quantitative"},"y":{"field":"lo","type":"quantitative"}}},{"mark":{"type":"line","color":"black"},"encoding":{"x":{"field":"h","type":"quantitative"},"y":{"field":"resp","type":"quantitative"}}}]},
{"width":166,"height":88,"transform":[{"filter":"datum.r=='NFINV'&&datum.c=='NFINV'"}],"layer":[{"transform":[{"filter":"datum.h==0"}],"mark":{"type":"rule","color":"black","strokeWidth":1.2},"encoding":{"y":{"datum":0,"type":"quantitative","scale":{"domain":[-1.5,2],"nice":false,"zero":false},"axis":{"values":[-1.5,-1,-0.5,0,0.5,1,1.5,2],"tickCount":20,"format":".1f","title":null}}}},{"mark":{"type":"line","color":"#0000ff"},"encoding":{"x":{"field":"h","type":"quantitative","scale":{"domain":[-0.86,5.82],"nice":false,"zero":false},"axis":{"values":[0,1,2,3,4,5],"tickCount":20,"format":"d","title":null}},"y":{"field":"hi","type":"quantitative"}}},{"mark":{"type":"line","color":"#0000ff"},"encoding":{"x":{"field":"h","type":"quantitative"},"y":{"field":"lo","type":"quantitative"}}},{"mark":{"type":"line","color":"black"},"encoding":{"x":{"field":"h","type":"quantitative"},"y":{"field":"resp","type":"quantitative"}}}]},
{"width":162,"height":88,"transform":[{"filter":"datum.r=='NFINV'&&datum.c=='TB'"}],"layer":[{"transform":[{"filter":"datum.h==0"}],"mark":{"type":"rule","color":"black","strokeWidth":1.2},"encoding":{"y":{"datum":0,"type":"quantitative","scale":{"domain":[-1.5,2.5],"nice":false,"zero":false},"axis":{"values":[-1.5,-1,-0.5,0,0.5,1,1.5,2,2.5],"tickCount":20,"format":".1f","title":null}}}},{"mark":{"type":"line","color":"#0000ff"},"encoding":{"x":{"field":"h","type":"quantitative","scale":{"domain":[-0.86,5.82],"nice":false,"zero":false},"axis":{"values":[0,1,2,3,4,5],"tickCount":20,"format":"d","title":null}},"y":{"field":"hi","type":"quantitative"}}},{"mark":{"type":"line","color":"#0000ff"},"encoding":{"x":{"field":"h","type":"quantitative"},"y":{"field":"lo","type":"quantitative"}}},{"mark":{"type":"line","color":"black"},"encoding":{"x":{"field":"h","type":"quantitative"},"y":{"field":"resp","type":"quantitative"}}}]},
{"width":163,"height":88,"transform":[{"filter":"datum.r=='NFINV'&&datum.c=='INVT'"}],"layer":[{"transform":[{"filter":"datum.h==0"}],"mark":{"type":"rule","color":"black","strokeWidth":1.2},"encoding":{"y":{"datum":0,"type":"quantitative","scale":{"domain":[-1.5,1.5],"nice":false,"zero":false},"axis":{"values":[-1.5,-1,-0.5,0,0.5,1,1.5],"tickCount":20,"format":".1f","title":null}}}},{"mark":{"type":"line","color":"#0000ff"},"encoding":{"x":{"field":"h","type":"quantitative","scale":{"domain":[-0.86,5.82],"nice":false,"zero":false},"axis":{"values":[0,1,2,3,4,5],"tickCount":20,"format":"d","title":null}},"y":{"field":"hi","type":"quantitative"}}},{"mark":{"type":"line","color":"#0000ff"},"encoding":{"x":{"field":"h","type":"quantitative"},"y":{"field":"lo","type":"quantitative"}}},{"mark":{"type":"line","color":"black"},"encoding":{"x":{"field":"h","type":"quantitative"},"y":{"field":"resp","type":"quantitative"}}}]},

{"width":164,"height":88,"transform":[{"filter":"datum.r=='TB'&&datum.c=='GDP'"}],"layer":[{"transform":[{"filter":"datum.h==0"}],"mark":{"type":"rule","color":"black","strokeWidth":1.2},"encoding":{"y":{"datum":0,"type":"quantitative","scale":{"domain":[-1,3.5],"nice":false,"zero":false},"axis":{"values":[-1,-0.5,0,0.5,1,1.5,2,2.5,3,3.5],"tickCount":20,"format":".1f","title":"TB"}}}},{"mark":{"type":"line","color":"#0000ff"},"encoding":{"x":{"field":"h","type":"quantitative","scale":{"domain":[-0.86,5.82],"nice":false,"zero":false},"axis":{"values":[0,1,2,3,4,5],"tickCount":20,"format":"d","title":null}},"y":{"field":"hi","type":"quantitative"}}},{"mark":{"type":"line","color":"#0000ff"},"encoding":{"x":{"field":"h","type":"quantitative"},"y":{"field":"lo","type":"quantitative"}}},{"mark":{"type":"line","color":"black"},"encoding":{"x":{"field":"h","type":"quantitative"},"y":{"field":"resp","type":"quantitative"}}}]},
{"width":165,"height":88,"transform":[{"filter":"datum.r=='TB'&&datum.c=='KAP'"}],"layer":[{"transform":[{"filter":"datum.h==0"}],"mark":{"type":"rule","color":"black","strokeWidth":1.2},"encoding":{"y":{"datum":0,"type":"quantitative","scale":{"domain":[-0.6,0.6],"nice":false,"zero":false},"axis":{"values":[-0.6,-0.4,-0.2,0,0.2,0.4,0.6],"tickCount":20,"labelExpr":"datum.value==0?'-0.0':format(datum.value,'.1f')","title":null}}}},{"mark":{"type":"line","color":"#0000ff"},"encoding":{"x":{"field":"h","type":"quantitative","scale":{"domain":[-0.86,5.82],"nice":false,"zero":false},"axis":{"values":[0,1,2,3,4,5],"tickCount":20,"format":"d","title":null}},"y":{"field":"hi","type":"quantitative"}}},{"mark":{"type":"line","color":"#0000ff"},"encoding":{"x":{"field":"h","type":"quantitative"},"y":{"field":"lo","type":"quantitative"}}},{"mark":{"type":"line","color":"black"},"encoding":{"x":{"field":"h","type":"quantitative"},"y":{"field":"resp","type":"quantitative"}}}]},
{"width":157,"height":88,"transform":[{"filter":"datum.r=='TB'&&datum.c=='FED'"}],"layer":[{"transform":[{"filter":"datum.h==0"}],"mark":{"type":"rule","color":"black","strokeWidth":1.2},"encoding":{"y":{"datum":0,"type":"quantitative","scale":{"domain":[-0.75,0.5],"nice":false,"zero":false},"axis":{"values":[-0.75,-0.5,-0.25,0,0.25,0.5],"tickCount":20,"format":".2f","title":null}}}},{"mark":{"type":"line","color":"#0000ff"},"encoding":{"x":{"field":"h","type":"quantitative","scale":{"domain":[-0.86,5.82],"nice":false,"zero":false},"axis":{"values":[0,1,2,3,4,5],"tickCount":20,"format":"d","title":null}},"y":{"field":"hi","type":"quantitative"}}},{"mark":{"type":"line","color":"#0000ff"},"encoding":{"x":{"field":"h","type":"quantitative"},"y":{"field":"lo","type":"quantitative"}}},{"mark":{"type":"line","color":"black"},"encoding":{"x":{"field":"h","type":"quantitative"},"y":{"field":"resp","type":"quantitative"}}}]},
{"width":164,"height":88,"transform":[{"filter":"datum.r=='TB'&&datum.c=='DEP'"}],"layer":[{"transform":[{"filter":"datum.h==0"}],"mark":{"type":"rule","color":"black","strokeWidth":1.2},"encoding":{"y":{"datum":0,"type":"quantitative","scale":{"domain":[-0.6,1],"nice":false,"zero":false},"axis":{"values":[-0.6,-0.4,-0.2,0,0.2,0.4,0.6,0.8,1],"tickCount":20,"labelExpr":"datum.value==0?'-0.0':format(datum.value,'.1f')","title":null}}}},{"mark":{"type":"line","color":"#0000ff"},"encoding":{"x":{"field":"h","type":"quantitative","scale":{"domain":[-0.86,5.82],"nice":false,"zero":false},"axis":{"values":[0,1,2,3,4,5],"tickCount":20,"format":"d","title":null}},"y":{"field":"hi","type":"quantitative"}}},{"mark":{"type":"line","color":"#0000ff"},"encoding":{"x":{"field":"h","type":"quantitative"},"y":{"field":"lo","type":"quantitative"}}},{"mark":{"type":"line","color":"black"},"encoding":{"x":{"field":"h","type":"quantitative"},"y":{"field":"resp","type":"quantitative"}}}]},
{"width":166,"height":88,"transform":[{"filter":"datum.r=='TB'&&datum.c=='NFINV'"}],"layer":[{"transform":[{"filter":"datum.h==0"}],"mark":{"type":"rule","color":"black","strokeWidth":1.2},"encoding":{"y":{"datum":0,"type":"quantitative","scale":{"domain":[-1.5,2],"nice":false,"zero":false},"axis":{"values":[-1.5,-1,-0.5,0,0.5,1,1.5,2],"tickCount":20,"format":".1f","title":null}}}},{"mark":{"type":"line","color":"#0000ff"},"encoding":{"x":{"field":"h","type":"quantitative","scale":{"domain":[-0.86,5.82],"nice":false,"zero":false},"axis":{"values":[0,1,2,3,4,5],"tickCount":20,"format":"d","title":null}},"y":{"field":"hi","type":"quantitative"}}},{"mark":{"type":"line","color":"#0000ff"},"encoding":{"x":{"field":"h","type":"quantitative"},"y":{"field":"lo","type":"quantitative"}}},{"mark":{"type":"line","color":"black"},"encoding":{"x":{"field":"h","type":"quantitative"},"y":{"field":"resp","type":"quantitative"}}}]},
{"width":162,"height":88,"transform":[{"filter":"datum.r=='TB'&&datum.c=='TB'"}],"layer":[{"transform":[{"filter":"datum.h==0"}],"mark":{"type":"rule","color":"black","strokeWidth":1.2},"encoding":{"y":{"datum":0,"type":"quantitative","scale":{"domain":[-1.5,2.5],"nice":false,"zero":false},"axis":{"values":[-1.5,-1,-0.5,0,0.5,1,1.5,2,2.5],"tickCount":20,"format":".1f","title":null}}}},{"mark":{"type":"line","color":"#0000ff"},"encoding":{"x":{"field":"h","type":"quantitative","scale":{"domain":[-0.86,5.82],"nice":false,"zero":false},"axis":{"values":[0,1,2,3,4,5],"tickCount":20,"format":"d","title":null}},"y":{"field":"hi","type":"quantitative"}}},{"mark":{"type":"line","color":"#0000ff"},"encoding":{"x":{"field":"h","type":"quantitative"},"y":{"field":"lo","type":"quantitative"}}},{"mark":{"type":"line","color":"black"},"encoding":{"x":{"field":"h","type":"quantitative"},"y":{"field":"resp","type":"quantitative"}}}]},
{"width":163,"height":88,"transform":[{"filter":"datum.r=='TB'&&datum.c=='INVT'"}],"layer":[{"transform":[{"filter":"datum.h==0"}],"mark":{"type":"rule","color":"black","strokeWidth":1.2},"encoding":{"y":{"datum":0,"type":"quantitative","scale":{"domain":[-1.5,1.5],"nice":false,"zero":false},"axis":{"values":[-1.5,-1,-0.5,0,0.5,1,1.5],"tickCount":20,"format":".1f","title":null}}}},{"mark":{"type":"line","color":"#0000ff"},"encoding":{"x":{"field":"h","type":"quantitative","scale":{"domain":[-0.86,5.82],"nice":false,"zero":false},"axis":{"values":[0,1,2,3,4,5],"tickCount":20,"format":"d","title":null}},"y":{"field":"hi","type":"quantitative"}}},{"mark":{"type":"line","color":"#0000ff"},"encoding":{"x":{"field":"h","type":"quantitative"},"y":{"field":"lo","type":"quantitative"}}},{"mark":{"type":"line","color":"black"},"encoding":{"x":{"field":"h","type":"quantitative"},"y":{"field":"resp","type":"quantitative"}}}]},

{"width":164,"height":88,"transform":[{"filter":"datum.r=='INVT'&&datum.c=='GDP'"}],"layer":[{"transform":[{"filter":"datum.h==0"}],"mark":{"type":"rule","color":"black","strokeWidth":1.2},"encoding":{"y":{"datum":0,"type":"quantitative","scale":{"domain":[-1,3.5],"nice":false,"zero":false},"axis":{"values":[-1,-0.5,0,0.5,1,1.5,2,2.5,3,3.5],"tickCount":20,"format":".1f","title":"INVT"}}}},{"mark":{"type":"line","color":"#0000ff"},"encoding":{"x":{"field":"h","type":"quantitative","scale":{"domain":[-0.86,5.82],"nice":false,"zero":false},"axis":{"values":[0,1,2,3,4,5],"tickCount":20,"format":"d","title":null}},"y":{"field":"hi","type":"quantitative"}}},{"mark":{"type":"line","color":"#0000ff"},"encoding":{"x":{"field":"h","type":"quantitative"},"y":{"field":"lo","type":"quantitative"}}},{"mark":{"type":"line","color":"black"},"encoding":{"x":{"field":"h","type":"quantitative"},"y":{"field":"resp","type":"quantitative"}}}]},
{"width":165,"height":88,"transform":[{"filter":"datum.r=='INVT'&&datum.c=='KAP'"}],"layer":[{"transform":[{"filter":"datum.h==0"}],"mark":{"type":"rule","color":"black","strokeWidth":1.2},"encoding":{"y":{"datum":0,"type":"quantitative","scale":{"domain":[-0.6,0.6],"nice":false,"zero":false},"axis":{"values":[-0.6,-0.4,-0.2,0,0.2,0.4,0.6],"tickCount":20,"labelExpr":"datum.value==0?'-0.0':format(datum.value,'.1f')","title":null}}}},{"mark":{"type":"line","color":"#0000ff"},"encoding":{"x":{"field":"h","type":"quantitative","scale":{"domain":[-0.86,5.82],"nice":false,"zero":false},"axis":{"values":[0,1,2,3,4,5],"tickCount":20,"format":"d","title":null}},"y":{"field":"hi","type":"quantitative"}}},{"mark":{"type":"line","color":"#0000ff"},"encoding":{"x":{"field":"h","type":"quantitative"},"y":{"field":"lo","type":"quantitative"}}},{"mark":{"type":"line","color":"black"},"encoding":{"x":{"field":"h","type":"quantitative"},"y":{"field":"resp","type":"quantitative"}}}]},
{"width":157,"height":88,"transform":[{"filter":"datum.r=='INVT'&&datum.c=='FED'"}],"layer":[{"transform":[{"filter":"datum.h==0"}],"mark":{"type":"rule","color":"black","strokeWidth":1.2},"encoding":{"y":{"datum":0,"type":"quantitative","scale":{"domain":[-0.75,0.5],"nice":false,"zero":false},"axis":{"values":[-0.75,-0.5,-0.25,0,0.25,0.5],"tickCount":20,"format":".2f","title":null}}}},{"mark":{"type":"line","color":"#0000ff"},"encoding":{"x":{"field":"h","type":"quantitative","scale":{"domain":[-0.86,5.82],"nice":false,"zero":false},"axis":{"values":[0,1,2,3,4,5],"tickCount":20,"format":"d","title":null}},"y":{"field":"hi","type":"quantitative"}}},{"mark":{"type":"line","color":"#0000ff"},"encoding":{"x":{"field":"h","type":"quantitative"},"y":{"field":"lo","type":"quantitative"}}},{"mark":{"type":"line","color":"black"},"encoding":{"x":{"field":"h","type":"quantitative"},"y":{"field":"resp","type":"quantitative"}}}]},
{"width":164,"height":88,"transform":[{"filter":"datum.r=='INVT'&&datum.c=='DEP'"}],"layer":[{"transform":[{"filter":"datum.h==0"}],"mark":{"type":"rule","color":"black","strokeWidth":1.2},"encoding":{"y":{"datum":0,"type":"quantitative","scale":{"domain":[-0.6,1],"nice":false,"zero":false},"axis":{"values":[-0.6,-0.4,-0.2,0,0.2,0.4,0.6,0.8,1],"tickCount":20,"labelExpr":"datum.value==0?'-0.0':format(datum.value,'.1f')","title":null}}}},{"mark":{"type":"line","color":"#0000ff"},"encoding":{"x":{"field":"h","type":"quantitative","scale":{"domain":[-0.86,5.82],"nice":false,"zero":false},"axis":{"values":[0,1,2,3,4,5],"tickCount":20,"format":"d","title":null}},"y":{"field":"hi","type":"quantitative"}}},{"mark":{"type":"line","color":"#0000ff"},"encoding":{"x":{"field":"h","type":"quantitative"},"y":{"field":"lo","type":"quantitative"}}},{"mark":{"type":"line","color":"black"},"encoding":{"x":{"field":"h","type":"quantitative"},"y":{"field":"resp","type":"quantitative"}}}]},
{"width":166,"height":88,"transform":[{"filter":"datum.r=='INVT'&&datum.c=='NFINV'"}],"layer":[{"transform":[{"filter":"datum.h==0"}],"mark":{"type":"rule","color":"black","strokeWidth":1.2},"encoding":{"y":{"datum":0,"type":"quantitative","scale":{"domain":[-1.5,2],"nice":false,"zero":false},"axis":{"values":[-1.5,-1,-0.5,0,0.5,1,1.5,2],"tickCount":20,"format":".1f","title":null}}}},{"mark":{"type":"line","color":"#0000ff"},"encoding":{"x":{"field":"h","type":"quantitative","scale":{"domain":[-0.86,5.82],"nice":false,"zero":false},"axis":{"values":[0,1,2,3,4,5],"tickCount":20,"format":"d","title":null}},"y":{"field":"hi","type":"quantitative"}}},{"mark":{"type":"line","color":"#0000ff"},"encoding":{"x":{"field":"h","type":"quantitative"},"y":{"field":"lo","type":"quantitative"}}},{"mark":{"type":"line","color":"black"},"encoding":{"x":{"field":"h","type":"quantitative"},"y":{"field":"resp","type":"quantitative"}}}]},
{"width":162,"height":88,"transform":[{"filter":"datum.r=='INVT'&&datum.c=='TB'"}],"layer":[{"transform":[{"filter":"datum.h==0"}],"mark":{"type":"rule","color":"black","strokeWidth":1.2},"encoding":{"y":{"datum":0,"type":"quantitative","scale":{"domain":[-1.5,2.5],"nice":false,"zero":false},"axis":{"values":[-1.5,-1,-0.5,0,0.5,1,1.5,2,2.5],"tickCount":20,"format":".1f","title":null}}}},{"mark":{"type":"line","color":"#0000ff"},"encoding":{"x":{"field":"h","type":"quantitative","scale":{"domain":[-0.86,5.82],"nice":false,"zero":false},"axis":{"values":[0,1,2,3,4,5],"tickCount":20,"format":"d","title":null}},"y":{"field":"hi","type":"quantitative"}}},{"mark":{"type":"line","color":"#0000ff"},"encoding":{"x":{"field":"h","type":"quantitative"},"y":{"field":"lo","type":"quantitative"}}},{"mark":{"type":"line","color":"black"},"encoding":{"x":{"field":"h","type":"quantitative"},"y":{"field":"resp","type":"quantitative"}}}]},
{"width":163,"height":88,"transform":[{"filter":"datum.r=='INVT'&&datum.c=='INVT'"}],"layer":[{"transform":[{"filter":"datum.h==0"}],"mark":{"type":"rule","color":"black","strokeWidth":1.2},"encoding":{"y":{"datum":0,"type":"quantitative","scale":{"domain":[-1.5,1.5],"nice":false,"zero":false},"axis":{"values":[-1.5,-1,-0.5,0,0.5,1,1.5],"tickCount":20,"format":".1f","title":null}}}},{"mark":{"type":"line","color":"#0000ff"},"encoding":{"x":{"field":"h","type":"quantitative","scale":{"domain":[-0.86,5.82],"nice":false,"zero":false},"axis":{"values":[0,1,2,3,4,5],"tickCount":20,"format":"d","title":null}},"y":{"field":"hi","type":"quantitative"}}},{"mark":{"type":"line","color":"#0000ff"},"encoding":{"x":{"field":"h","type":"quantitative"},"y":{"field":"lo","type":"quantitative"}}},{"mark":{"type":"line","color":"black"},"encoding":{"x":{"field":"h","type":"quantitative"},"y":{"field":"resp","type":"quantitative"}}}]},

{"width":164,"height":88,"transform":[{"filter":"datum.r=='C'&&datum.c=='GDP'"}],"layer":[{"transform":[{"filter":"datum.h==0"}],"mark":{"type":"rule","color":"black","strokeWidth":1.2},"encoding":{"y":{"datum":0,"type":"quantitative","scale":{"domain":[-1,3.5],"nice":false,"zero":false},"axis":{"values":[-1,-0.5,0,0.5,1,1.5,2,2.5,3,3.5],"tickCount":20,"format":".1f","title":"C"}}}},{"mark":{"type":"line","color":"#0000ff"},"encoding":{"x":{"field":"h","type":"quantitative","scale":{"domain":[-0.86,5.82],"nice":false,"zero":false},"axis":{"values":[0,1,2,3,4,5],"tickCount":20,"format":"d","title":null}},"y":{"field":"hi","type":"quantitative"}}},{"mark":{"type":"line","color":"#0000ff"},"encoding":{"x":{"field":"h","type":"quantitative"},"y":{"field":"lo","type":"quantitative"}}},{"mark":{"type":"line","color":"black"},"encoding":{"x":{"field":"h","type":"quantitative"},"y":{"field":"resp","type":"quantitative"}}}]},
{"width":165,"height":88,"transform":[{"filter":"datum.r=='C'&&datum.c=='KAP'"}],"layer":[{"transform":[{"filter":"datum.h==0"}],"mark":{"type":"rule","color":"black","strokeWidth":1.2},"encoding":{"y":{"datum":0,"type":"quantitative","scale":{"domain":[-0.6,0.6],"nice":false,"zero":false},"axis":{"values":[-0.6,-0.4,-0.2,0,0.2,0.4,0.6],"tickCount":20,"labelExpr":"datum.value==0?'-0.0':format(datum.value,'.1f')","title":null}}}},{"mark":{"type":"line","color":"#0000ff"},"encoding":{"x":{"field":"h","type":"quantitative","scale":{"domain":[-0.86,5.82],"nice":false,"zero":false},"axis":{"values":[0,1,2,3,4,5],"tickCount":20,"format":"d","title":null}},"y":{"field":"hi","type":"quantitative"}}},{"mark":{"type":"line","color":"#0000ff"},"encoding":{"x":{"field":"h","type":"quantitative"},"y":{"field":"lo","type":"quantitative"}}},{"mark":{"type":"line","color":"black"},"encoding":{"x":{"field":"h","type":"quantitative"},"y":{"field":"resp","type":"quantitative"}}}]},
{"width":157,"height":88,"transform":[{"filter":"datum.r=='C'&&datum.c=='FED'"}],"layer":[{"transform":[{"filter":"datum.h==0"}],"mark":{"type":"rule","color":"black","strokeWidth":1.2},"encoding":{"y":{"datum":0,"type":"quantitative","scale":{"domain":[-0.75,0.5],"nice":false,"zero":false},"axis":{"values":[-0.75,-0.5,-0.25,0,0.25,0.5],"tickCount":20,"format":".2f","title":null}}}},{"mark":{"type":"line","color":"#0000ff"},"encoding":{"x":{"field":"h","type":"quantitative","scale":{"domain":[-0.86,5.82],"nice":false,"zero":false},"axis":{"values":[0,1,2,3,4,5],"tickCount":20,"format":"d","title":null}},"y":{"field":"hi","type":"quantitative"}}},{"mark":{"type":"line","color":"#0000ff"},"encoding":{"x":{"field":"h","type":"quantitative"},"y":{"field":"lo","type":"quantitative"}}},{"mark":{"type":"line","color":"black"},"encoding":{"x":{"field":"h","type":"quantitative"},"y":{"field":"resp","type":"quantitative"}}}]},
{"width":164,"height":88,"transform":[{"filter":"datum.r=='C'&&datum.c=='DEP'"}],"layer":[{"transform":[{"filter":"datum.h==0"}],"mark":{"type":"rule","color":"black","strokeWidth":1.2},"encoding":{"y":{"datum":0,"type":"quantitative","scale":{"domain":[-0.6,1],"nice":false,"zero":false},"axis":{"values":[-0.6,-0.4,-0.2,0,0.2,0.4,0.6,0.8,1],"tickCount":20,"labelExpr":"datum.value==0?'-0.0':format(datum.value,'.1f')","title":null}}}},{"mark":{"type":"line","color":"#0000ff"},"encoding":{"x":{"field":"h","type":"quantitative","scale":{"domain":[-0.86,5.82],"nice":false,"zero":false},"axis":{"values":[0,1,2,3,4,5],"tickCount":20,"format":"d","title":null}},"y":{"field":"hi","type":"quantitative"}}},{"mark":{"type":"line","color":"#0000ff"},"encoding":{"x":{"field":"h","type":"quantitative"},"y":{"field":"lo","type":"quantitative"}}},{"mark":{"type":"line","color":"black"},"encoding":{"x":{"field":"h","type":"quantitative"},"y":{"field":"resp","type":"quantitative"}}}]},
{"width":166,"height":88,"transform":[{"filter":"datum.r=='C'&&datum.c=='NFINV'"}],"layer":[{"transform":[{"filter":"datum.h==0"}],"mark":{"type":"rule","color":"black","strokeWidth":1.2},"encoding":{"y":{"datum":0,"type":"quantitative","scale":{"domain":[-1.5,2],"nice":false,"zero":false},"axis":{"values":[-1.5,-1,-0.5,0,0.5,1,1.5,2],"tickCount":20,"format":".1f","title":null}}}},{"mark":{"type":"line","color":"#0000ff"},"encoding":{"x":{"field":"h","type":"quantitative","scale":{"domain":[-0.86,5.82],"nice":false,"zero":false},"axis":{"values":[0,1,2,3,4,5],"tickCount":20,"format":"d","title":null}},"y":{"field":"hi","type":"quantitative"}}},{"mark":{"type":"line","color":"#0000ff"},"encoding":{"x":{"field":"h","type":"quantitative"},"y":{"field":"lo","type":"quantitative"}}},{"mark":{"type":"line","color":"black"},"encoding":{"x":{"field":"h","type":"quantitative"},"y":{"field":"resp","type":"quantitative"}}}]},
{"width":162,"height":88,"transform":[{"filter":"datum.r=='C'&&datum.c=='TB'"}],"layer":[{"transform":[{"filter":"datum.h==0"}],"mark":{"type":"rule","color":"black","strokeWidth":1.2},"encoding":{"y":{"datum":0,"type":"quantitative","scale":{"domain":[-1.5,2.5],"nice":false,"zero":false},"axis":{"values":[-1.5,-1,-0.5,0,0.5,1,1.5,2,2.5],"tickCount":20,"format":".1f","title":null}}}},{"mark":{"type":"line","color":"#0000ff"},"encoding":{"x":{"field":"h","type":"quantitative","scale":{"domain":[-0.86,5.82],"nice":false,"zero":false},"axis":{"values":[0,1,2,3,4,5],"tickCount":20,"format":"d","title":null}},"y":{"field":"hi","type":"quantitative"}}},{"mark":{"type":"line","color":"#0000ff"},"encoding":{"x":{"field":"h","type":"quantitative"},"y":{"field":"lo","type":"quantitative"}}},{"mark":{"type":"line","color":"black"},"encoding":{"x":{"field":"h","type":"quantitative"},"y":{"field":"resp","type":"quantitative"}}}]},
{"width":163,"height":88,"transform":[{"filter":"datum.r=='C'&&datum.c=='INVT'"}],"layer":[{"transform":[{"filter":"datum.h==0"}],"mark":{"type":"rule","color":"black","strokeWidth":1.2},"encoding":{"y":{"datum":0,"type":"quantitative","scale":{"domain":[-1.5,1.5],"nice":false,"zero":false},"axis":{"values":[-1.5,-1,-0.5,0,0.5,1,1.5],"tickCount":20,"format":".1f","title":null}}}},{"mark":{"type":"line","color":"#0000ff"},"encoding":{"x":{"field":"h","type":"quantitative","scale":{"domain":[-0.86,5.82],"nice":false,"zero":false},"axis":{"values":[0,1,2,3,4,5],"tickCount":20,"format":"d","title":null}},"y":{"field":"hi","type":"quantitative"}}},{"mark":{"type":"line","color":"#0000ff"},"encoding":{"x":{"field":"h","type":"quantitative"},"y":{"field":"lo","type":"quantitative"}}},{"mark":{"type":"line","color":"black"},"encoding":{"x":{"field":"h","type":"quantitative"},"y":{"field":"resp","type":"quantitative"}}}]}
],
"config":{
"locale":{"number":{"decimal":".","thousands":",","grouping":[3],"currency":["",""],"minus":"-"}},
"view":{"stroke":"black","strokeWidth":1.5},
"axis":{"domain":false,"grid":false,"ticks":true,"tickColor":"black","tickSize":3,"tickWidth":1,"tickCount":20,"labelFont":"DejaVu Sans","labelFontSize":7,"labelFontWeight":"bold","labelColor":"black","labelPadding":3,"labelOverlap":false,"labelFlush":false,"titleFont":"DejaVu Sans","titleFontSize":26,"titleFontWeight":"bold","titleColor":"black"},
"axisY":{"titleAngle":0,"titleX":-37,"titleY":60,"titleAlign":"right","titleBaseline":"alphabetic"},
"title":{"font":"DejaVu Sans","fontSize":26,"fontWeight":"bold","color":"black","anchor":"middle","frame":"group","offset":2,"baseline":"alphabetic","dx":-14},
"line":{"strokeWidth":1.2}
}
}
